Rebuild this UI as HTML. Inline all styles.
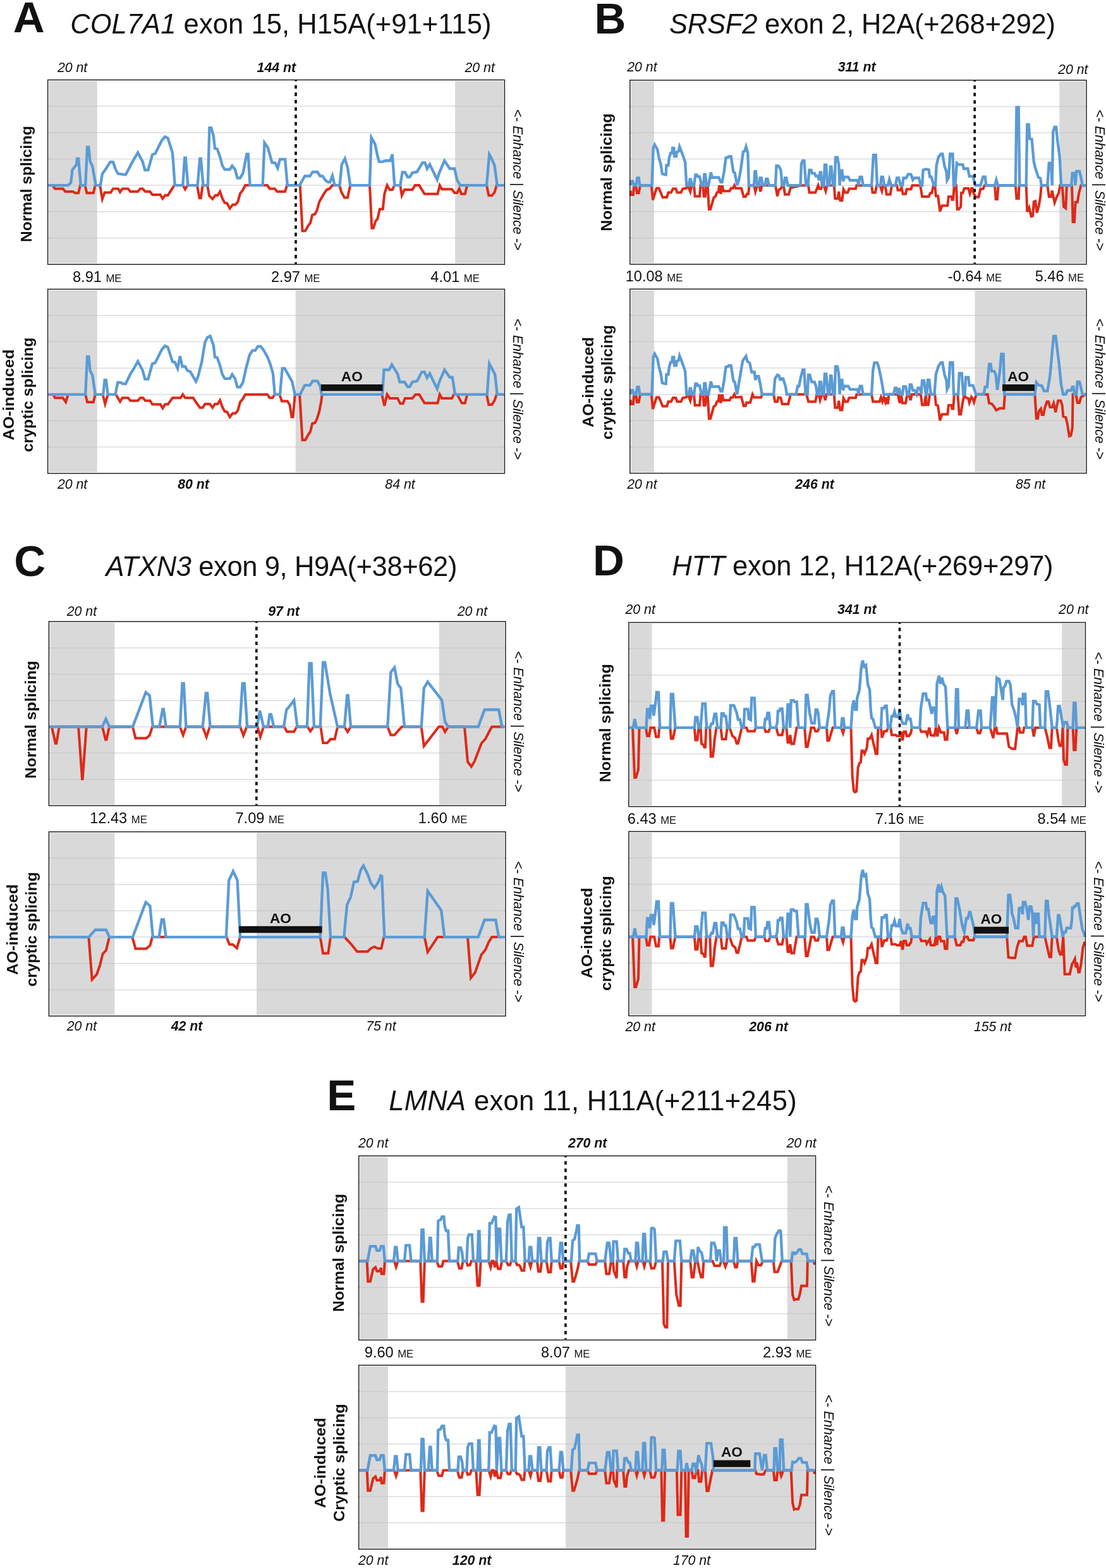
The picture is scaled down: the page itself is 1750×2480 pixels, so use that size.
<!DOCTYPE html>
<html><head><meta charset="utf-8"><title>Splicing ESE/ESS profiles</title>
<style>
html,body{margin:0;padding:0;background:#fff;}
svg{display:block;font-family:"Liberation Sans", Arial, Helvetica, sans-serif;}
</style></head>
<body>
<svg width="1750" height="2480" viewBox="0 0 1750 2480">
<rect x="0" y="0" width="1750" height="2480" fill="#fff"/>
<text x="20.8" y="50.9" font-size="69" font-weight="bold" font-style="normal" text-anchor="start" fill="#111">A</text>
<text x="111.2" y="53.0" font-size="43.5" fill="#111" textLength="666.2" lengthAdjust="spacing"><tspan font-style="italic">COL7A1</tspan> exon 15, H15A(+91+115)</text>
<rect x="77.3" y="128.1" width="76.4" height="288.4" fill="#d9d9d9"/>
<rect x="720.1" y="128.1" width="76.6" height="288.4" fill="#d9d9d9"/>
<line x1="75.6" y1="168.1" x2="798.4" y2="168.1" stroke="#dcdcdc" stroke-width="1.5"/>
<line x1="75.6" y1="168.1" x2="153.7" y2="168.1" stroke="#cbcbcb" stroke-width="1.5"/>
<line x1="720.1" y1="168.1" x2="798.4" y2="168.1" stroke="#cbcbcb" stroke-width="1.5"/>
<line x1="75.6" y1="209.8" x2="798.4" y2="209.8" stroke="#dcdcdc" stroke-width="1.5"/>
<line x1="75.6" y1="209.8" x2="153.7" y2="209.8" stroke="#cbcbcb" stroke-width="1.5"/>
<line x1="720.1" y1="209.8" x2="798.4" y2="209.8" stroke="#cbcbcb" stroke-width="1.5"/>
<line x1="75.6" y1="251.5" x2="798.4" y2="251.5" stroke="#dcdcdc" stroke-width="1.5"/>
<line x1="75.6" y1="251.5" x2="153.7" y2="251.5" stroke="#cbcbcb" stroke-width="1.5"/>
<line x1="720.1" y1="251.5" x2="798.4" y2="251.5" stroke="#cbcbcb" stroke-width="1.5"/>
<line x1="75.6" y1="293.1" x2="798.4" y2="293.1" stroke="#dcdcdc" stroke-width="1.5"/>
<line x1="75.6" y1="293.1" x2="153.7" y2="293.1" stroke="#cbcbcb" stroke-width="1.5"/>
<line x1="720.1" y1="293.1" x2="798.4" y2="293.1" stroke="#cbcbcb" stroke-width="1.5"/>
<line x1="75.6" y1="334.8" x2="798.4" y2="334.8" stroke="#dcdcdc" stroke-width="1.5"/>
<line x1="75.6" y1="334.8" x2="153.7" y2="334.8" stroke="#cbcbcb" stroke-width="1.5"/>
<line x1="720.1" y1="334.8" x2="798.4" y2="334.8" stroke="#cbcbcb" stroke-width="1.5"/>
<line x1="75.6" y1="376.5" x2="798.4" y2="376.5" stroke="#dcdcdc" stroke-width="1.5"/>
<line x1="75.6" y1="376.5" x2="153.7" y2="376.5" stroke="#cbcbcb" stroke-width="1.5"/>
<line x1="720.1" y1="376.5" x2="798.4" y2="376.5" stroke="#cbcbcb" stroke-width="1.5"/>
<polyline points="76.7,293.1 83.3,293.1 87.0,298.5 99.6,298.5 103.3,303.0 115.2,303.0 118.9,305.2 124.1,305.2 127.0,293.1 134.4,293.1 137.4,305.2 147.8,305.2 150.7,293.1 158.1,293.1 161.9,314.8 165.6,304.4 175.2,304.4 178.9,298.5 187.0,298.5 190.0,303.7 193.7,298.5 202.6,298.5 206.3,303.0 218.1,303.0 221.9,298.5 225.6,298.5 230.0,303.0 237.4,303.0 241.1,308.1 253.7,308.1 257.4,314.1 261.1,308.9 265.6,308.9 275.9,293.1 289.3,293.1 293.0,299.3 296.7,293.1 310.0,293.1 311.9,293.1 315.6,313.3 317.8,313.3 320.7,293.1 328.1,293.1 331.1,309.6 336.3,314.8 340.7,308.9 344.4,308.9 348.1,303.0 351.9,314.1 355.6,320.7 359.3,321.5 363.7,329.6 368.1,323.7 372.6,323.7 376.3,319.3 380.0,305.9 383.7,301.5 388.1,293.1 418.5,293.1 423.0,293.1 426.7,298.5 434.8,298.5 438.5,303.0 451.1,303.0 454.1,293.1 474.8,293.1 478.5,365.2 483.0,365.2 488.1,356.3 491.1,352.6 494.1,340.0 498.5,338.5 501.5,332.6 505.2,319.3 511.9,307.4 517.0,300.0 521.5,298.5 525.9,293.1 537.0,293.1 540.0,303.3 545.0,312.5 550.0,312.5 554.2,293.1 585.0,293.1 588.3,360.8 590.8,360.8 594.2,350.0 597.5,345.8 600.8,330.8 605.8,330.8 608.3,306.7 612.5,293.1 616.7,300.0 620.8,300.0 624.2,293.1 633.3,293.1 635.8,309.2 640.0,300.0 652.5,300.0 656.7,293.1 663.3,293.1 671.7,306.7 692.5,306.7 695.8,293.1 699.2,299.2 715.0,299.2 719.2,305.0 723.3,305.0 726.7,298.3 730.0,306.7 735.8,306.7 739.2,293.1 770.0,293.1 773.3,309.2 778.3,309.2 782.5,304.2 785.8,293.1 797.4,293.1" fill="none" stroke="#dd2a18" stroke-width="4.0" stroke-linejoin="miter" stroke-miterlimit="4"/>
<polyline points="76.7,293.1 107.8,293.1 112.2,288.9 114.4,268.9 121.1,260.0 121.9,250.8 124.1,250.8 127.8,293.1 135.2,293.1 138.1,232.6 140.4,232.6 142.6,255.6 146.3,263.0 151.5,293.1 158.9,293.1 161.9,274.8 166.3,268.9 174.4,256.3 178.9,256.3 183.3,268.9 187.0,274.8 193.7,275.6 198.9,276.3 209.3,256.3 218.1,241.5 225.6,255.6 229.3,268.9 234.4,268.9 241.1,244.4 245.6,243.0 255.9,222.2 261.1,216.3 265.6,218.5 273.0,242.2 276.7,293.1 289.3,293.1 292.2,249.6 293.7,249.6 297.4,293.1 310.0,293.1 312.6,293.1 316.3,250.8 317.8,250.8 321.5,293.1 328.9,293.1 331.4,202.2 334.1,202.2 337.8,214.8 340.0,234.8 343.7,235.6 348.1,248.1 351.9,262.2 355.6,268.1 363.7,268.1 367.4,262.2 371.9,268.1 375.6,281.5 380.0,281.5 384.4,274.1 390.4,243.7 392.6,243.7 395.6,293.1 415.6,293.1 418.5,225.9 423.7,233.3 430.4,257.0 435.6,257.8 439.3,265.9 443.0,251.9 451.1,251.9 454.8,293.1 474.1,293.1 482.2,278.5 490.4,278.5 494.8,271.9 502.2,271.9 506.7,278.5 510.4,278.5 514.8,285.2 519.3,288.1 522.2,288.1 525.9,277.8 529.6,293.1 537.0,293.1 537.5,293.1 540.8,260.0 545.8,250.8 550.0,265.0 554.2,293.1 585.0,293.1 587.5,217.5 593.3,227.5 597.5,247.5 600.0,255.8 605.0,255.8 610.0,254.2 617.5,254.2 620.8,244.2 624.2,293.1 633.3,293.1 636.7,272.5 640.8,272.5 645.0,280.0 648.3,280.0 652.5,273.3 660.0,271.7 668.3,257.5 672.5,257.5 675.8,266.7 680.0,260.0 691.7,284.2 695.0,273.3 703.3,254.2 711.7,266.7 719.2,266.7 723.3,285.0 728.3,293.1 770.0,293.1 774.2,244.2 777.5,250.0 782.5,261.7 786.7,293.1 797.4,293.1" fill="none" stroke="#5b9bd5" stroke-width="4.35" stroke-linejoin="miter" stroke-miterlimit="4"/>
<line x1="468.0" y1="126.4" x2="468.0" y2="417.4" stroke="#0d0d0d" stroke-width="3.7" stroke-dasharray="5.6 6.07" stroke-dashoffset="3.4"/>
<rect x="75.6" y="126.4" width="722.8" height="291.8" fill="none" stroke="#1c1c1c" stroke-width="1.45"/>
<rect x="77.3" y="459.1" width="76.4" height="287.9" fill="#d9d9d9"/>
<rect x="467.7" y="459.1" width="329.0" height="287.9" fill="#d9d9d9"/>
<line x1="75.6" y1="499.0" x2="798.4" y2="499.0" stroke="#dcdcdc" stroke-width="1.5"/>
<line x1="75.6" y1="499.0" x2="153.7" y2="499.0" stroke="#cbcbcb" stroke-width="1.5"/>
<line x1="467.7" y1="499.0" x2="798.4" y2="499.0" stroke="#cbcbcb" stroke-width="1.5"/>
<line x1="75.6" y1="540.6" x2="798.4" y2="540.6" stroke="#dcdcdc" stroke-width="1.5"/>
<line x1="75.6" y1="540.6" x2="153.7" y2="540.6" stroke="#cbcbcb" stroke-width="1.5"/>
<line x1="467.7" y1="540.6" x2="798.4" y2="540.6" stroke="#cbcbcb" stroke-width="1.5"/>
<line x1="75.6" y1="582.2" x2="798.4" y2="582.2" stroke="#dcdcdc" stroke-width="1.5"/>
<line x1="75.6" y1="582.2" x2="153.7" y2="582.2" stroke="#cbcbcb" stroke-width="1.5"/>
<line x1="467.7" y1="582.2" x2="798.4" y2="582.2" stroke="#cbcbcb" stroke-width="1.5"/>
<line x1="75.6" y1="623.9" x2="798.4" y2="623.9" stroke="#dcdcdc" stroke-width="1.5"/>
<line x1="75.6" y1="623.9" x2="153.7" y2="623.9" stroke="#cbcbcb" stroke-width="1.5"/>
<line x1="467.7" y1="623.9" x2="798.4" y2="623.9" stroke="#cbcbcb" stroke-width="1.5"/>
<line x1="75.6" y1="665.5" x2="798.4" y2="665.5" stroke="#dcdcdc" stroke-width="1.5"/>
<line x1="75.6" y1="665.5" x2="153.7" y2="665.5" stroke="#cbcbcb" stroke-width="1.5"/>
<line x1="467.7" y1="665.5" x2="798.4" y2="665.5" stroke="#cbcbcb" stroke-width="1.5"/>
<line x1="75.6" y1="707.1" x2="798.4" y2="707.1" stroke="#dcdcdc" stroke-width="1.5"/>
<line x1="75.6" y1="707.1" x2="153.7" y2="707.1" stroke="#cbcbcb" stroke-width="1.5"/>
<line x1="467.7" y1="707.1" x2="798.4" y2="707.1" stroke="#cbcbcb" stroke-width="1.5"/>
<polyline points="76.7,623.9 84.1,623.9 87.0,629.3 99.6,629.3 104.1,635.9 107.8,623.9 135.2,623.9 138.1,635.9 147.8,635.9 150.7,623.9 162.6,623.9 166.3,638.9 170.7,623.9 183.3,623.9 190.0,635.2 193.7,629.3 202.6,629.3 206.3,633.7 218.1,633.7 221.9,629.3 226.3,629.3 230.0,633.7 237.4,633.7 241.1,639.6 253.7,639.6 257.4,645.6 261.1,639.6 265.6,639.6 273.0,629.3 285.6,629.3 289.3,623.9 293.0,629.3 305.6,629.3 310.0,635.9 316.3,644.8 320.7,644.8 324.4,638.9 331.9,638.9 336.3,644.8 340.0,638.9 344.4,638.9 348.1,633.0 351.9,644.1 355.6,650.7 359.3,651.5 363.7,659.6 368.1,653.7 372.6,653.7 376.3,649.3 380.0,635.9 383.7,631.5 388.1,623.9 423.0,623.9 426.7,629.3 431.1,629.3 434.8,623.9 442.2,623.9 445.9,634.4 454.8,634.4 458.5,640.4 461.5,659.6 463.7,659.6 466.7,623.9 474.1,623.9 478.5,695.9 483.0,695.9 488.1,687.0 491.1,682.6 494.1,670.0 498.5,668.5 501.5,662.6 505.2,650.7 508.1,635.9 509.6,623.9 540.0,623.9 604.2,623.9 608.3,641.7 612.5,623.9 616.7,630.0 629.2,630.0 633.3,638.3 637.5,638.3 640.8,630.0 652.5,630.0 657.5,623.9 663.3,623.9 671.7,637.5 692.5,637.5 695.8,623.9 699.2,630.0 715.0,630.0 718.3,623.9 723.3,623.9 730.8,637.5 735.8,637.5 739.2,623.9 770.0,623.9 773.3,640.0 778.3,640.0 782.5,633.3 785.8,623.9 797.4,623.9" fill="none" stroke="#dd2a18" stroke-width="4.0" stroke-linejoin="miter" stroke-miterlimit="4"/>
<polyline points="76.7,623.9 135.2,623.9 138.1,564.1 140.4,564.1 142.6,586.3 146.3,593.7 150.7,623.9 163.3,623.9 165.6,601.1 167.8,601.1 170.7,623.9 182.6,623.9 186.3,604.8 190.7,604.8 194.4,607.0 198.9,607.0 206.3,591.5 210.7,584.8 218.1,571.5 225.6,585.6 229.3,599.6 234.4,599.6 241.1,575.2 245.6,573.7 255.9,553.0 261.1,547.0 265.6,549.3 273.0,572.2 276.7,573.0 281.1,582.6 284.8,563.3 288.5,579.6 293.0,579.6 296.7,586.3 301.1,587.8 310.0,603.3 313.3,595.9 319.3,572.2 324.4,541.1 328.1,533.7 332.6,531.5 337.8,546.3 340.0,564.8 343.7,565.6 348.1,578.1 351.9,592.2 355.6,598.9 363.7,598.9 367.4,592.2 371.9,598.9 375.6,612.2 380.0,612.2 384.4,604.8 388.9,584.1 394.8,561.9 399.3,554.4 403.7,554.4 408.1,547.8 412.6,547.8 417.0,553.7 423.0,564.1 427.4,575.2 431.9,590.7 434.8,623.9 443.0,623.9 446.7,582.6 450.4,582.6 462.2,603.3 466.7,623.9 474.8,623.9 482.2,609.3 490.4,609.3 494.8,602.6 502.2,602.6 506.7,610.7 508.9,623.9 540.0,623.9 605.0,623.9 607.5,585.0 615.8,585.0 620.0,576.7 629.2,591.7 632.5,604.2 640.0,604.2 645.0,611.7 648.3,611.7 652.5,604.2 660.0,602.5 667.5,588.3 671.7,588.3 675.8,597.5 680.0,590.8 691.7,615.0 695.0,604.2 703.3,585.0 711.7,596.7 715.8,596.7 720.0,623.9 770.8,623.9 774.2,575.0 783.3,592.5 786.7,623.9 797.4,623.9" fill="none" stroke="#5b9bd5" stroke-width="4.35" stroke-linejoin="miter" stroke-miterlimit="4"/>
<rect x="507.9" y="608.0" width="97.6" height="10.4" fill="#111"/>
<text x="556.8" y="602.8" font-size="22.6" font-weight="bold" text-anchor="middle" fill="#111">AO</text>
<rect x="75.6" y="457.4" width="722.8" height="291.3" fill="none" stroke="#1c1c1c" stroke-width="1.45"/>
<text x="114.6" y="114.3" font-size="21.3" font-weight="normal" font-style="italic" text-anchor="middle" fill="#111">20 nt</text>
<text x="437.4" y="114.3" font-size="21.3" font-weight="bold" font-style="italic" text-anchor="middle" fill="#111">144 nt</text>
<text x="759.2" y="114.3" font-size="21.3" font-weight="normal" font-style="italic" text-anchor="middle" fill="#111">20 nt</text>
<text x="153.7" y="445.6" font-size="23.6" text-anchor="middle" fill="#111">8.91<tspan font-size="16.7" dx="6.5">ME</tspan></text>
<text x="467.7" y="445.6" font-size="23.6" text-anchor="middle" fill="#111">2.97<tspan font-size="16.7" dx="6.5">ME</tspan></text>
<text x="720.1" y="445.6" font-size="23.6" text-anchor="middle" fill="#111">4.01<tspan font-size="16.7" dx="6.5">ME</tspan></text>
<text x="114.6" y="772.6" font-size="21.3" font-weight="normal" font-style="italic" text-anchor="middle" fill="#111">20 nt</text>
<text x="306.0" y="772.6" font-size="21.3" font-weight="bold" font-style="italic" text-anchor="middle" fill="#111">80 nt</text>
<text x="633.0" y="772.6" font-size="21.3" font-weight="normal" font-style="italic" text-anchor="middle" fill="#111">84 nt</text>
<text transform="translate(50.0,291.0) rotate(-90)" x="0" y="0" font-size="24.2" font-weight="bold" text-anchor="middle" fill="#111" textLength="184.0" lengthAdjust="spacingAndGlyphs">Normal splicing</text>
<text transform="translate(21.5,624.5) rotate(-90)" x="0" y="0" font-size="24.2" font-weight="bold" text-anchor="middle" fill="#111" textLength="144.2" lengthAdjust="spacingAndGlyphs">AO-induced</text>
<text transform="translate(51.6,624.4) rotate(-90)" x="0" y="0" font-size="24.2" font-weight="bold" text-anchor="middle" fill="#111" textLength="181.4" lengthAdjust="spacingAndGlyphs">cryptic splicing</text>
<text transform="translate(811.9,284.7) rotate(90)" x="0" y="0" font-size="21.4" text-anchor="middle" fill="#111">&lt;- <tspan font-style="italic">Enhance</tspan> | <tspan font-style="italic">Silence</tspan> -&gt;</text>
<text transform="translate(811.9,615.7) rotate(90)" x="0" y="0" font-size="21.4" text-anchor="middle" fill="#111">&lt;- <tspan font-style="italic">Enhance</tspan> | <tspan font-style="italic">Silence</tspan> -&gt;</text>
<text x="940.4" y="52.6" font-size="69" font-weight="bold" font-style="normal" text-anchor="start" fill="#111">B</text>
<text x="1059.0" y="53.0" font-size="43.5" fill="#111" textLength="611.1" lengthAdjust="spacing"><tspan font-style="italic">SRSF2</tspan> exon 2, H2A(+268+292)</text>
<rect x="998.5" y="128.5" width="36.5" height="287.8" fill="#d9d9d9"/>
<rect x="1676.3" y="128.5" width="41.0" height="287.8" fill="#d9d9d9"/>
<line x1="996.8" y1="168.4" x2="1719.0" y2="168.4" stroke="#dcdcdc" stroke-width="1.5"/>
<line x1="996.8" y1="168.4" x2="1035.0" y2="168.4" stroke="#cbcbcb" stroke-width="1.5"/>
<line x1="1676.3" y1="168.4" x2="1719.0" y2="168.4" stroke="#cbcbcb" stroke-width="1.5"/>
<line x1="996.8" y1="210.0" x2="1719.0" y2="210.0" stroke="#dcdcdc" stroke-width="1.5"/>
<line x1="996.8" y1="210.0" x2="1035.0" y2="210.0" stroke="#cbcbcb" stroke-width="1.5"/>
<line x1="1676.3" y1="210.0" x2="1719.0" y2="210.0" stroke="#cbcbcb" stroke-width="1.5"/>
<line x1="996.8" y1="251.6" x2="1719.0" y2="251.6" stroke="#dcdcdc" stroke-width="1.5"/>
<line x1="996.8" y1="251.6" x2="1035.0" y2="251.6" stroke="#cbcbcb" stroke-width="1.5"/>
<line x1="1676.3" y1="251.6" x2="1719.0" y2="251.6" stroke="#cbcbcb" stroke-width="1.5"/>
<line x1="996.8" y1="293.2" x2="1719.0" y2="293.2" stroke="#dcdcdc" stroke-width="1.5"/>
<line x1="996.8" y1="293.2" x2="1035.0" y2="293.2" stroke="#cbcbcb" stroke-width="1.5"/>
<line x1="1676.3" y1="293.2" x2="1719.0" y2="293.2" stroke="#cbcbcb" stroke-width="1.5"/>
<line x1="996.8" y1="334.8" x2="1719.0" y2="334.8" stroke="#dcdcdc" stroke-width="1.5"/>
<line x1="996.8" y1="334.8" x2="1035.0" y2="334.8" stroke="#cbcbcb" stroke-width="1.5"/>
<line x1="1676.3" y1="334.8" x2="1719.0" y2="334.8" stroke="#cbcbcb" stroke-width="1.5"/>
<line x1="996.8" y1="376.4" x2="1719.0" y2="376.4" stroke="#dcdcdc" stroke-width="1.5"/>
<line x1="996.8" y1="376.4" x2="1035.0" y2="376.4" stroke="#cbcbcb" stroke-width="1.5"/>
<line x1="1676.3" y1="376.4" x2="1719.0" y2="376.4" stroke="#cbcbcb" stroke-width="1.5"/>
<polyline points="997.8,301.5 997.8,308.1 1001.9,308.1 1003.3,293.2 1006.3,293.2 1007.8,305.2 1010.7,305.2 1013.0,293.2 1030.7,293.2 1033.0,316.3 1036.7,304.4 1038.9,297.8 1042.6,297.8 1044.8,303.0 1048.5,311.9 1055.2,311.9 1057.4,304.4 1061.9,304.4 1064.8,298.5 1069.3,298.5 1071.5,304.4 1077.4,304.4 1080.4,298.5 1085.6,297.8 1088.5,293.2 1092.2,303.0 1094.4,293.2 1098.1,293.2 1099.6,310.4 1107.0,310.4 1108.5,293.2 1112.2,293.2 1113.7,310.4 1115.9,310.4 1117.4,293.2 1119.6,293.2 1121.9,331.1 1124.1,331.1 1129.3,312.6 1132.2,310.4 1134.4,304.4 1136.7,303.7 1138.1,293.2 1140.4,306.7 1142.6,293.2 1144.8,302.2 1154.4,302.2 1156.7,297.8 1159.6,297.8 1161.9,293.2 1164.1,297.8 1173.0,297.8 1176.7,311.1 1179.6,311.1 1181.9,306.7 1184.1,306.7 1185.6,293.2 1193.0,293.2 1195.2,303.0 1198.1,293.2 1201.1,293.2 1203.3,303.0 1205.6,293.2 1227.0,293.2 1230.0,310.4 1232.4,300.0 1235.4,298.5 1237.6,293.2 1239.8,293.2 1242.0,307.4 1248.0,307.4 1250.9,297.0 1268.0,293.2 1270.2,293.2 1279.1,293.2 1280.6,304.4 1290.2,304.4 1293.1,297.0 1294.6,293.2 1296.1,298.5 1299.1,298.5 1300.6,293.2 1303.5,293.2 1306.5,302.2 1308.7,293.2 1319.8,293.2 1321.3,314.1 1325.7,314.1 1327.2,303.0 1329.4,317.0 1332.4,317.0 1334.6,299.3 1337.6,304.4 1341.3,304.4 1343.5,298.5 1353.9,298.5 1355.4,293.2 1379.1,293.2 1380.6,304.4 1385.0,304.4 1387.2,293.2 1392.4,293.2 1395.4,302.2 1397.6,293.2 1400.6,293.2 1402.8,307.4 1408.7,307.4 1410.9,293.2 1419.1,293.2 1420.6,300.7 1424.3,300.7 1426.5,297.0 1428.7,306.7 1433.1,306.7 1434.6,299.3 1441.3,299.3 1443.5,293.2 1453.9,293.2 1456.1,293.2 1459.1,311.1 1465.0,311.1 1469.6,310.9 1472.0,305.3 1474.4,305.3 1476.9,293.2 1479.3,293.2 1480.9,310.1 1484.1,310.1 1487.3,334.2 1490.5,325.3 1499.3,325.3 1500.9,310.9 1505.7,310.9 1506.5,315.7 1508.2,315.7 1509.8,293.2 1513.0,293.2 1514.6,330.9 1517.0,330.9 1520.2,326.9 1521.0,305.3 1523.4,305.3 1525.8,298.0 1532.2,298.0 1534.6,306.1 1537.0,298.0 1538.7,298.0 1540.3,305.3 1544.3,311.7 1548.3,311.7 1551.5,298.8 1555.5,298.8 1557.9,293.2 1574.0,293.2 1575.6,314.9 1578.0,314.9 1579.6,293.2 1606.9,293.2 1608.5,314.1 1611.7,314.1 1612.5,293.2 1623.7,293.2 1625.3,335.0 1628.5,328.5 1631.7,342.2 1634.2,341.4 1635.8,318.9 1638.2,318.1 1640.6,336.6 1643.8,325.3 1646.2,310.9 1647.8,293.2 1657.4,293.2 1659.8,310.9 1663.0,310.9 1664.7,301.3 1668.7,320.5 1671.9,311.7 1675.1,305.3 1677.5,293.2 1680.7,293.2 1683.1,326.9 1686.3,329.3 1687.9,293.2 1696.0,293.2 1697.6,351.0 1700.0,351.0 1701.6,319.7 1704.8,319.7 1707.2,305.3 1710.4,293.2 1718.0,293.2" fill="none" stroke="#dd2a18" stroke-width="4.0" stroke-linejoin="miter" stroke-miterlimit="4"/>
<polyline points="997.8,293.2 998.1,286.7 1001.1,286.7 1003.3,293.2 1006.3,293.2 1008.5,281.5 1010.7,281.5 1012.2,293.2 1031.5,293.2 1033.7,233.3 1035.9,228.9 1040.4,237.0 1042.6,249.6 1045.6,260.0 1047.8,274.8 1050.0,275.6 1053.7,276.3 1054.4,261.5 1057.4,261.5 1058.9,249.6 1061.1,242.2 1063.3,242.2 1064.1,234.1 1066.3,234.1 1067.0,247.4 1070.0,247.4 1070.7,240.7 1073.7,239.3 1075.2,231.9 1078.1,239.3 1081.9,249.6 1084.1,256.3 1086.3,293.2 1090.0,293.2 1091.5,283.7 1093.0,283.7 1095.2,293.2 1098.1,293.2 1100.4,276.3 1102.6,276.3 1104.1,279.3 1107.0,279.3 1110.0,293.2 1113.0,293.2 1114.4,275.6 1115.9,275.6 1118.1,293.2 1121.1,293.2 1124.8,272.6 1127.0,280.7 1137.4,280.7 1140.4,288.1 1142.6,288.1 1145.6,271.9 1148.5,249.6 1152.2,248.9 1153.0,247.4 1156.7,247.4 1160.4,271.9 1162.6,273.3 1166.3,293.2 1169.3,283.7 1172.2,267.4 1175.9,240.0 1178.1,239.3 1180.4,231.9 1183.3,242.2 1184.8,293.2 1193.0,293.2 1194.4,271.1 1195.9,271.1 1198.1,293.2 1201.1,293.2 1202.6,281.5 1204.8,281.5 1207.0,293.2 1210.7,293.2 1212.2,283.0 1214.4,283.0 1216.7,293.2 1227.0,293.2 1228.5,262.2 1230.0,262.2 1232.4,263.0 1235.4,268.9 1237.6,293.2 1240.6,293.2 1242.0,281.5 1244.3,281.5 1246.5,293.2 1266.5,293.2 1268.0,258.5 1270.2,254.1 1272.4,254.1 1275.4,293.2 1278.3,293.2 1280.6,268.9 1283.5,268.9 1285.0,274.1 1288.7,274.1 1290.9,278.5 1293.9,278.5 1296.1,285.2 1297.6,272.6 1299.1,272.6 1300.6,293.2 1303.5,293.2 1305.0,260.7 1307.2,260.7 1309.4,293.2 1312.4,293.2 1313.9,263.7 1315.4,263.7 1318.3,293.2 1320.6,293.2 1322.0,248.9 1325.0,248.9 1327.2,260.7 1328.7,293.2 1329.4,269.6 1332.4,269.6 1333.9,286.7 1336.1,280.0 1342.0,280.0 1345.0,285.2 1356.9,285.2 1358.3,293.2 1360.6,280.0 1363.5,280.0 1365.7,293.2 1379.1,293.2 1382.0,245.2 1385.7,245.2 1388.0,293.2 1393.1,293.2 1394.6,280.0 1396.9,280.0 1399.1,293.2 1405.0,293.2 1407.2,283.7 1410.2,293.2 1416.9,293.2 1419.1,281.5 1422.0,281.5 1425.0,293.2 1428.0,293.2 1429.4,281.5 1433.9,281.5 1436.9,275.6 1441.3,275.6 1444.3,284.4 1446.5,281.5 1453.9,281.5 1456.9,293.2 1459.1,293.2 1460.6,268.9 1465.0,267.4 1469.6,268.3 1471.2,279.6 1473.6,279.6 1476.1,288.4 1477.7,293.2 1480.1,293.2 1481.7,261.9 1484.9,248.3 1488.9,243.5 1491.3,243.5 1494.5,262.7 1497.7,272.4 1498.5,285.2 1500.9,281.2 1503.3,243.5 1507.4,243.5 1509.0,293.2 1511.4,293.2 1513.8,257.9 1517.0,260.3 1523.4,260.3 1525.0,266.7 1531.4,266.7 1533.8,278.8 1539.5,278.8 1541.9,288.4 1543.5,293.2 1551.5,293.2 1555.5,279.6 1558.7,279.6 1560.3,293.2 1574.0,293.2 1576.4,284.4 1578.8,293.2 1606.9,293.2 1608.5,169.6 1611.7,169.6 1613.3,293.2 1623.7,293.2 1625.3,196.9 1627.7,196.9 1629.3,219.4 1632.6,220.2 1635.8,256.3 1638.2,265.9 1643.0,280.4 1646.2,282.0 1647.8,293.2 1657.4,293.2 1659.8,257.9 1663.0,257.9 1664.7,293.2 1666.3,208.2 1668.7,200.9 1671.1,200.9 1673.5,224.2 1676.7,248.3 1679.1,293.2 1695.2,293.2 1696.8,274.0 1700.0,274.0 1701.6,293.2 1703.2,270.8 1708.0,270.8 1710.4,280.4 1712.8,293.2 1718.0,293.2" fill="none" stroke="#5b9bd5" stroke-width="4.35" stroke-linejoin="miter" stroke-miterlimit="4"/>
<line x1="1542.2" y1="126.8" x2="1542.2" y2="417.2" stroke="#0d0d0d" stroke-width="3.7" stroke-dasharray="5.6 6.07" stroke-dashoffset="3.4"/>
<rect x="996.8" y="126.8" width="722.2" height="291.2" fill="none" stroke="#1c1c1c" stroke-width="1.45"/>
<rect x="998.5" y="458.9" width="36.5" height="287.9" fill="#d9d9d9"/>
<rect x="1542.5" y="458.9" width="174.8" height="287.9" fill="#d9d9d9"/>
<line x1="996.8" y1="498.8" x2="1719.0" y2="498.8" stroke="#dcdcdc" stroke-width="1.5"/>
<line x1="996.8" y1="498.8" x2="1035.0" y2="498.8" stroke="#cbcbcb" stroke-width="1.5"/>
<line x1="1542.5" y1="498.8" x2="1719.0" y2="498.8" stroke="#cbcbcb" stroke-width="1.5"/>
<line x1="996.8" y1="540.4" x2="1719.0" y2="540.4" stroke="#dcdcdc" stroke-width="1.5"/>
<line x1="996.8" y1="540.4" x2="1035.0" y2="540.4" stroke="#cbcbcb" stroke-width="1.5"/>
<line x1="1542.5" y1="540.4" x2="1719.0" y2="540.4" stroke="#cbcbcb" stroke-width="1.5"/>
<line x1="996.8" y1="582.0" x2="1719.0" y2="582.0" stroke="#dcdcdc" stroke-width="1.5"/>
<line x1="996.8" y1="582.0" x2="1035.0" y2="582.0" stroke="#cbcbcb" stroke-width="1.5"/>
<line x1="1542.5" y1="582.0" x2="1719.0" y2="582.0" stroke="#cbcbcb" stroke-width="1.5"/>
<line x1="996.8" y1="623.7" x2="1719.0" y2="623.7" stroke="#dcdcdc" stroke-width="1.5"/>
<line x1="996.8" y1="623.7" x2="1035.0" y2="623.7" stroke="#cbcbcb" stroke-width="1.5"/>
<line x1="1542.5" y1="623.7" x2="1719.0" y2="623.7" stroke="#cbcbcb" stroke-width="1.5"/>
<line x1="996.8" y1="665.3" x2="1719.0" y2="665.3" stroke="#dcdcdc" stroke-width="1.5"/>
<line x1="996.8" y1="665.3" x2="1035.0" y2="665.3" stroke="#cbcbcb" stroke-width="1.5"/>
<line x1="1542.5" y1="665.3" x2="1719.0" y2="665.3" stroke="#cbcbcb" stroke-width="1.5"/>
<line x1="996.8" y1="706.9" x2="1719.0" y2="706.9" stroke="#dcdcdc" stroke-width="1.5"/>
<line x1="996.8" y1="706.9" x2="1035.0" y2="706.9" stroke="#cbcbcb" stroke-width="1.5"/>
<line x1="1542.5" y1="706.9" x2="1719.0" y2="706.9" stroke="#cbcbcb" stroke-width="1.5"/>
<polyline points="997.8,632.2 997.8,638.9 1001.9,638.9 1003.3,623.7 1006.3,623.7 1007.8,635.9 1010.7,635.9 1013.0,623.7 1030.7,623.7 1033.0,647.0 1036.7,635.2 1038.9,628.5 1042.6,628.5 1044.8,633.7 1048.5,642.6 1055.2,642.6 1057.4,635.2 1061.9,635.2 1064.8,629.3 1069.3,629.3 1071.5,635.2 1077.4,635.2 1080.4,629.3 1085.6,628.5 1088.5,623.7 1092.2,633.7 1094.4,623.7 1098.1,623.7 1099.6,641.1 1107.0,641.1 1108.5,623.7 1112.2,623.7 1113.7,641.1 1115.9,641.1 1117.4,623.7 1119.6,623.7 1121.9,661.9 1124.1,661.9 1129.3,643.3 1132.2,641.1 1134.4,635.2 1136.7,634.4 1138.1,623.7 1140.4,637.4 1142.6,623.7 1144.8,633.0 1154.4,633.0 1156.7,628.5 1159.6,628.5 1161.9,623.7 1164.1,628.5 1173.0,627.8 1176.7,641.9 1179.6,641.9 1181.1,636.7 1187.0,636.7 1190.7,623.7 1193.0,628.5 1204.1,628.5 1206.3,623.7 1224.1,623.7 1226.3,635.2 1230.0,635.2 1231.7,628.5 1235.4,629.3 1237.6,638.9 1247.2,638.9 1250.9,623.7 1262.8,623.7 1263.5,623.7 1270.2,623.7 1271.7,623.7 1276.1,623.7 1279.1,635.2 1290.2,635.2 1292.4,623.7 1295.4,623.7 1297.6,633.0 1300.6,623.7 1303.5,623.7 1305.7,633.0 1308.0,623.7 1319.8,623.7 1321.3,644.8 1325.7,644.8 1327.2,633.7 1329.4,648.5 1332.4,648.5 1334.6,630.0 1337.6,635.2 1341.3,635.2 1343.5,629.3 1353.9,629.3 1355.4,623.7 1379.1,623.7 1381.3,635.2 1391.7,635.2 1393.9,628.5 1396.1,635.2 1398.3,628.5 1400.6,635.2 1402.0,628.5 1403.5,637.4 1405.0,637.4 1406.5,623.7 1420.6,623.7 1423.5,637.4 1425.7,623.7 1428.0,637.4 1433.1,637.4 1435.4,623.7 1438.3,623.7 1440.6,633.0 1442.8,623.7 1445.7,623.7 1447.2,623.7 1456.9,623.7 1459.1,640.4 1462.8,640.4 1465.0,623.7 1465.6,640.1 1468.8,640.1 1471.2,623.7 1479.3,623.7 1480.9,640.1 1484.1,641.7 1487.3,665.0 1490.5,655.3 1499.3,655.3 1500.9,640.9 1505.7,640.9 1506.5,646.5 1508.2,646.5 1509.8,623.7 1515.4,623.7 1517.8,655.3 1520.2,655.3 1523.4,635.3 1525.8,623.7 1527.4,628.0 1532.2,630.4 1533.8,636.9 1537.0,628.0 1539.5,631.3 1541.1,636.1 1543.5,628.0 1545.1,623.7 1562.7,623.7 1565.1,637.7 1569.1,638.5 1572.4,642.5 1576.4,648.9 1582.0,645.7 1588.4,645.7 1590.0,623.7 1637.4,623.7 1639.8,661.7 1642.2,661.7 1643.8,650.5 1647.0,646.5 1648.6,656.1 1651.0,656.1 1653.4,644.1 1656.6,635.3 1659.0,635.3 1661.4,644.1 1664.7,644.1 1667.1,637.7 1670.3,652.1 1671.9,643.3 1674.3,633.7 1678.3,633.7 1680.7,640.9 1682.3,658.5 1686.3,660.1 1688.7,669.8 1691.9,689.8 1694.3,689.0 1696.8,677.0 1697.6,623.7 1702.4,623.7 1704.8,636.9 1708.0,636.9 1710.4,628.0 1718.0,623.7" fill="none" stroke="#dd2a18" stroke-width="4.0" stroke-linejoin="miter" stroke-miterlimit="4"/>
<polyline points="997.8,623.7 998.1,617.4 1001.1,617.4 1003.3,623.7 1006.3,623.7 1008.5,612.2 1010.7,612.2 1012.2,623.7 1031.5,623.7 1033.7,564.1 1035.9,559.6 1040.4,567.8 1042.6,580.4 1045.6,590.7 1047.8,605.6 1050.0,606.3 1053.7,607.0 1054.4,592.2 1057.4,592.2 1058.9,580.4 1061.1,573.0 1063.3,573.0 1064.1,564.8 1066.3,564.8 1067.0,578.1 1070.0,578.1 1070.7,571.5 1073.7,570.0 1075.2,562.6 1078.1,570.0 1081.9,580.4 1084.1,587.0 1086.3,623.7 1090.0,623.7 1091.5,614.4 1093.0,614.4 1095.2,623.7 1098.1,623.7 1100.4,607.0 1102.6,607.0 1104.1,610.0 1107.0,610.0 1110.0,623.7 1113.0,623.7 1114.4,606.3 1115.9,606.3 1118.1,623.7 1121.1,623.7 1124.8,603.3 1127.0,611.5 1137.4,611.5 1140.4,618.9 1142.6,618.9 1145.6,602.6 1148.5,580.4 1152.2,579.6 1153.0,578.1 1156.7,578.1 1160.4,602.6 1162.6,604.1 1166.3,623.7 1169.3,604.8 1175.2,570.7 1180.4,563.3 1182.6,571.5 1186.3,574.4 1189.3,588.5 1193.7,588.5 1195.2,601.1 1197.4,595.2 1200.4,595.2 1203.3,609.3 1205.6,623.7 1224.1,623.7 1226.3,598.9 1230.0,593.0 1232.4,593.7 1234.6,600.4 1236.1,600.4 1236.9,598.9 1239.1,598.9 1242.8,610.7 1245.0,623.7 1259.8,623.7 1262.0,610.7 1264.3,610.7 1267.2,595.9 1270.2,584.8 1272.4,584.8 1274.6,623.7 1277.6,623.7 1279.1,593.0 1281.3,593.0 1284.3,604.1 1288.7,604.1 1290.9,610.0 1293.1,623.7 1295.4,623.7 1296.9,604.1 1299.1,604.1 1300.6,623.7 1303.5,623.7 1305.0,591.5 1307.2,591.5 1310.2,623.7 1312.4,623.7 1313.9,594.4 1315.4,594.4 1318.3,623.7 1320.6,623.7 1322.0,579.6 1325.0,579.6 1327.2,591.5 1328.7,623.7 1329.4,601.1 1332.4,601.1 1333.9,617.4 1336.1,610.7 1342.0,610.7 1345.0,615.9 1356.9,615.9 1358.3,623.7 1360.6,610.7 1363.5,610.7 1365.7,623.7 1379.1,623.7 1381.3,585.6 1383.5,573.7 1388.0,573.7 1390.2,579.6 1393.9,597.4 1396.1,609.3 1398.3,623.7 1413.9,623.7 1416.1,613.7 1418.3,613.7 1420.6,623.7 1422.8,613.7 1425.0,623.7 1428.0,623.7 1429.4,611.5 1433.1,611.5 1435.4,623.7 1438.3,623.7 1439.8,608.5 1442.0,608.5 1444.3,617.4 1447.2,617.4 1450.2,623.7 1452.4,613.7 1456.1,613.7 1457.6,623.7 1459.1,601.9 1462.0,601.9 1465.0,623.7 1466.4,623.7 1468.0,600.8 1470.4,600.8 1472.8,623.7 1478.5,623.7 1480.9,591.9 1484.9,579.1 1488.9,573.5 1491.3,573.5 1494.5,592.7 1497.7,602.4 1498.5,616.0 1500.9,611.2 1503.3,573.5 1507.4,573.5 1509.0,623.7 1516.2,623.7 1517.8,590.3 1521.8,590.3 1524.2,623.7 1526.6,623.7 1528.2,596.7 1532.2,596.7 1533.8,609.6 1539.5,609.6 1544.3,623.7 1556.3,623.7 1558.7,612.0 1561.9,612.0 1565.1,575.9 1567.5,575.9 1569.1,587.1 1573.2,587.1 1575.6,592.7 1578.0,616.8 1582.0,587.9 1584.4,559.8 1587.6,559.8 1589.2,623.7 1637.4,623.7 1639.8,604.8 1643.0,608.8 1648.6,610.4 1651.8,618.4 1657.4,618.4 1661.4,594.3 1667.1,531.7 1670.3,531.7 1675.9,576.7 1679.1,608.8 1682.3,623.7 1686.3,623.7 1688.7,617.6 1694.3,617.6 1696.8,612.0 1698.4,612.0 1700.0,623.7 1703.2,623.7 1704.8,604.0 1708.0,604.0 1710.4,613.6 1712.8,623.7 1718.0,623.7" fill="none" stroke="#5b9bd5" stroke-width="4.35" stroke-linejoin="miter" stroke-miterlimit="4"/>
<rect x="1586.0" y="608.0" width="50.9" height="10.4" fill="#111"/>
<text x="1611.1" y="603.0" font-size="22.6" font-weight="bold" text-anchor="middle" fill="#111">AO</text>
<rect x="996.8" y="457.2" width="722.2" height="291.3" fill="none" stroke="#1c1c1c" stroke-width="1.45"/>
<text x="1015.9" y="113.3" font-size="21.3" font-weight="normal" font-style="italic" text-anchor="middle" fill="#111">20 nt</text>
<text x="1355.7" y="113.3" font-size="21.3" font-weight="bold" font-style="italic" text-anchor="middle" fill="#111">311 nt</text>
<text x="1697.8" y="116.7" font-size="21.3" font-weight="normal" font-style="italic" text-anchor="middle" fill="#111">20 nt</text>
<text x="1035.0" y="444.6" font-size="23.6" text-anchor="middle" fill="#111">10.08<tspan font-size="16.7" dx="6.5">ME</tspan></text>
<text x="1542.5" y="444.6" font-size="23.6" text-anchor="middle" fill="#111">-0.64<tspan font-size="16.7" dx="6.5">ME</tspan></text>
<text x="1676.4" y="444.6" font-size="23.6" text-anchor="middle" fill="#111">5.46<tspan font-size="16.7" dx="6.5">ME</tspan></text>
<text x="1015.9" y="772.6" font-size="21.3" font-weight="normal" font-style="italic" text-anchor="middle" fill="#111">20 nt</text>
<text x="1289.0" y="772.6" font-size="21.3" font-weight="bold" font-style="italic" text-anchor="middle" fill="#111">246 nt</text>
<text x="1630.6" y="772.6" font-size="21.3" font-weight="normal" font-style="italic" text-anchor="middle" fill="#111">85 nt</text>
<text transform="translate(967.9,272.5) rotate(-90)" x="0" y="0" font-size="24.2" font-weight="bold" text-anchor="middle" fill="#111" textLength="186.6" lengthAdjust="spacingAndGlyphs">Normal splicing</text>
<text transform="translate(938.8,604.5) rotate(-90)" x="0" y="0" font-size="24.2" font-weight="bold" text-anchor="middle" fill="#111" textLength="143.0" lengthAdjust="spacingAndGlyphs">AO-induced</text>
<text transform="translate(969.3,604.5) rotate(-90)" x="0" y="0" font-size="24.2" font-weight="bold" text-anchor="middle" fill="#111" textLength="181.4" lengthAdjust="spacingAndGlyphs">cryptic splicing</text>
<text transform="translate(1732.5,285.1) rotate(90)" x="0" y="0" font-size="21.4" text-anchor="middle" fill="#111">&lt;- <tspan font-style="italic">Enhance</tspan> | <tspan font-style="italic">Silence</tspan> -&gt;</text>
<text transform="translate(1732.5,615.5) rotate(90)" x="0" y="0" font-size="21.4" text-anchor="middle" fill="#111">&lt;- <tspan font-style="italic">Enhance</tspan> | <tspan font-style="italic">Silence</tspan> -&gt;</text>
<text x="22.2" y="910.5" font-size="69" font-weight="bold" font-style="normal" text-anchor="start" fill="#111">C</text>
<text x="167.4" y="911.4" font-size="43.5" fill="#111" textLength="556.0" lengthAdjust="spacing"><tspan font-style="italic">ATXN3</tspan> exon 9, H9A(+38+62)</text>
<rect x="79.1" y="984.8" width="102.3" height="287.8" fill="#d9d9d9"/>
<rect x="694.8" y="984.8" width="103.4" height="287.8" fill="#d9d9d9"/>
<line x1="77.4" y1="1024.7" x2="799.9" y2="1024.7" stroke="#dcdcdc" stroke-width="1.5"/>
<line x1="77.4" y1="1024.7" x2="181.4" y2="1024.7" stroke="#cbcbcb" stroke-width="1.5"/>
<line x1="694.8" y1="1024.7" x2="799.9" y2="1024.7" stroke="#cbcbcb" stroke-width="1.5"/>
<line x1="77.4" y1="1066.3" x2="799.9" y2="1066.3" stroke="#dcdcdc" stroke-width="1.5"/>
<line x1="77.4" y1="1066.3" x2="181.4" y2="1066.3" stroke="#cbcbcb" stroke-width="1.5"/>
<line x1="694.8" y1="1066.3" x2="799.9" y2="1066.3" stroke="#cbcbcb" stroke-width="1.5"/>
<line x1="77.4" y1="1107.9" x2="799.9" y2="1107.9" stroke="#dcdcdc" stroke-width="1.5"/>
<line x1="77.4" y1="1107.9" x2="181.4" y2="1107.9" stroke="#cbcbcb" stroke-width="1.5"/>
<line x1="694.8" y1="1107.9" x2="799.9" y2="1107.9" stroke="#cbcbcb" stroke-width="1.5"/>
<line x1="77.4" y1="1149.5" x2="799.9" y2="1149.5" stroke="#dcdcdc" stroke-width="1.5"/>
<line x1="77.4" y1="1149.5" x2="181.4" y2="1149.5" stroke="#cbcbcb" stroke-width="1.5"/>
<line x1="694.8" y1="1149.5" x2="799.9" y2="1149.5" stroke="#cbcbcb" stroke-width="1.5"/>
<line x1="77.4" y1="1191.1" x2="799.9" y2="1191.1" stroke="#dcdcdc" stroke-width="1.5"/>
<line x1="77.4" y1="1191.1" x2="181.4" y2="1191.1" stroke="#cbcbcb" stroke-width="1.5"/>
<line x1="694.8" y1="1191.1" x2="799.9" y2="1191.1" stroke="#cbcbcb" stroke-width="1.5"/>
<line x1="77.4" y1="1232.7" x2="799.9" y2="1232.7" stroke="#dcdcdc" stroke-width="1.5"/>
<line x1="77.4" y1="1232.7" x2="181.4" y2="1232.7" stroke="#cbcbcb" stroke-width="1.5"/>
<line x1="694.8" y1="1232.7" x2="799.9" y2="1232.7" stroke="#cbcbcb" stroke-width="1.5"/>
<polyline points="78.4,1149.5 81.9,1149.5 87.8,1175.7 89.3,1175.7 93.7,1149.5 124.1,1149.5 130.0,1232.0 130.7,1232.0 136.7,1149.5 161.9,1149.5 167.0,1169.8 168.5,1169.8 173.0,1149.5 210.0,1149.5 214.4,1167.6 231.5,1167.6 236.7,1163.1 241.1,1149.5 255.2,1149.5 260.4,1149.5 284.8,1149.5 289.7,1162.4 294.4,1149.5 310.0,1149.5 320.7,1149.5 326.7,1165.4 331.9,1149.5 380.0,1149.5 385.2,1163.1 390.4,1149.5 407.4,1149.5 411.9,1165.4 417.0,1149.5 424.4,1149.5 430.4,1149.5 449.6,1149.5 454.1,1157.2 465.2,1157.2 469.6,1149.5 486.7,1149.5 491.1,1156.5 496.3,1149.5 507.4,1149.5 511.1,1175.0 517.8,1175.0 523.0,1169.1 529.6,1169.1 534.1,1149.5 540.0,1149.5 545.0,1149.5 550.0,1157.5 555.0,1149.5 613.3,1149.5 618.3,1162.5 624.2,1162.5 630.0,1155.8 635.8,1149.5 640.0,1149.5 666.7,1149.5 670.8,1180.0 694.2,1149.5 700.0,1149.5 704.2,1157.5 709.2,1149.5 735.0,1149.5 740.0,1205.0 745.8,1212.5 750.8,1204.2 761.7,1175.8 768.3,1168.3 774.2,1156.7 778.3,1149.5 790.8,1149.5 798.3,1149.5" fill="none" stroke="#dd2a18" stroke-width="4.0" stroke-linejoin="miter" stroke-miterlimit="4"/>
<polyline points="78.4,1149.5 161.9,1149.5 167.5,1137.2 173.0,1149.5 210.0,1149.5 230.7,1095.0 236.7,1100.2 241.9,1149.5 252.2,1149.5 257.4,1121.7 258.9,1121.7 262.6,1149.5 284.8,1149.5 288.5,1080.9 290.7,1080.9 294.4,1149.5 310.0,1149.5 320.7,1149.5 325.9,1096.5 328.1,1096.5 332.6,1149.5 379.3,1149.5 383.7,1080.9 386.7,1080.9 391.1,1149.5 406.7,1149.5 411.1,1123.9 417.0,1149.5 423.7,1149.5 426.7,1129.8 428.9,1129.8 433.3,1149.5 448.9,1149.5 453.3,1122.4 456.3,1119.4 465.2,1107.6 470.4,1149.5 485.9,1149.5 489.6,1049.1 492.6,1049.1 497.0,1149.5 506.7,1149.5 511.1,1047.6 514.1,1047.6 522.2,1097.2 534.1,1149.5 540.0,1149.5 545.0,1149.5 549.2,1100.0 550.8,1100.0 555.0,1149.5 613.3,1149.5 618.3,1063.3 624.2,1055.8 629.2,1081.7 634.2,1088.3 640.0,1149.5 666.7,1149.5 670.8,1088.3 676.7,1078.3 699.2,1107.5 704.2,1141.7 709.2,1149.5 756.7,1149.5 766.7,1122.5 789.2,1122.5 794.2,1149.5 798.3,1149.5" fill="none" stroke="#5b9bd5" stroke-width="4.35" stroke-linejoin="miter" stroke-miterlimit="4"/>
<line x1="405.8" y1="983.1" x2="405.8" y2="1273.5" stroke="#0d0d0d" stroke-width="3.7" stroke-dasharray="5.6 6.07" stroke-dashoffset="3.4"/>
<rect x="77.4" y="983.1" width="722.5" height="291.2" fill="none" stroke="#1c1c1c" stroke-width="1.45"/>
<rect x="79.1" y="1317.3" width="102.3" height="288.0" fill="#d9d9d9"/>
<rect x="406.0" y="1317.3" width="392.2" height="288.0" fill="#d9d9d9"/>
<line x1="77.4" y1="1357.2" x2="799.9" y2="1357.2" stroke="#dcdcdc" stroke-width="1.5"/>
<line x1="77.4" y1="1357.2" x2="181.4" y2="1357.2" stroke="#cbcbcb" stroke-width="1.5"/>
<line x1="406.0" y1="1357.2" x2="799.9" y2="1357.2" stroke="#cbcbcb" stroke-width="1.5"/>
<line x1="77.4" y1="1398.9" x2="799.9" y2="1398.9" stroke="#dcdcdc" stroke-width="1.5"/>
<line x1="77.4" y1="1398.9" x2="181.4" y2="1398.9" stroke="#cbcbcb" stroke-width="1.5"/>
<line x1="406.0" y1="1398.9" x2="799.9" y2="1398.9" stroke="#cbcbcb" stroke-width="1.5"/>
<line x1="77.4" y1="1440.5" x2="799.9" y2="1440.5" stroke="#dcdcdc" stroke-width="1.5"/>
<line x1="77.4" y1="1440.5" x2="181.4" y2="1440.5" stroke="#cbcbcb" stroke-width="1.5"/>
<line x1="406.0" y1="1440.5" x2="799.9" y2="1440.5" stroke="#cbcbcb" stroke-width="1.5"/>
<line x1="77.4" y1="1482.1" x2="799.9" y2="1482.1" stroke="#dcdcdc" stroke-width="1.5"/>
<line x1="77.4" y1="1482.1" x2="181.4" y2="1482.1" stroke="#cbcbcb" stroke-width="1.5"/>
<line x1="406.0" y1="1482.1" x2="799.9" y2="1482.1" stroke="#cbcbcb" stroke-width="1.5"/>
<line x1="77.4" y1="1523.7" x2="799.9" y2="1523.7" stroke="#dcdcdc" stroke-width="1.5"/>
<line x1="77.4" y1="1523.7" x2="181.4" y2="1523.7" stroke="#cbcbcb" stroke-width="1.5"/>
<line x1="406.0" y1="1523.7" x2="799.9" y2="1523.7" stroke="#cbcbcb" stroke-width="1.5"/>
<line x1="77.4" y1="1565.4" x2="799.9" y2="1565.4" stroke="#dcdcdc" stroke-width="1.5"/>
<line x1="77.4" y1="1565.4" x2="181.4" y2="1565.4" stroke="#cbcbcb" stroke-width="1.5"/>
<line x1="406.0" y1="1565.4" x2="799.9" y2="1565.4" stroke="#cbcbcb" stroke-width="1.5"/>
<polyline points="78.4,1482.1 139.6,1482.1 140.4,1482.1 145.6,1549.3 153.0,1541.1 158.1,1527.0 162.6,1508.5 167.8,1503.3 173.0,1482.1 209.3,1482.1 214.4,1500.4 231.5,1500.4 237.4,1495.2 241.1,1482.1 255.2,1482.1 260.4,1482.1 310.0,1482.1 358.5,1482.1 363.0,1493.7 368.1,1493.7 374.8,1499.6 380.0,1482.1 506.7,1482.1 511.1,1507.8 519.3,1507.8 523.0,1482.1 540.0,1482.1 545.0,1482.1 555.0,1492.5 565.0,1505.0 581.7,1505.0 586.7,1500.0 592.5,1497.5 597.5,1500.0 603.3,1500.0 607.5,1482.1 671.7,1482.1 676.7,1505.8 692.5,1482.1 701.7,1482.1 740.0,1482.1 745.0,1546.7 751.7,1538.3 761.7,1510.0 768.3,1501.7 773.3,1490.0 778.3,1482.1 785.8,1482.1 798.3,1482.1" fill="none" stroke="#dd2a18" stroke-width="4.0" stroke-linejoin="miter" stroke-miterlimit="4"/>
<polyline points="78.4,1482.1 140.4,1482.1 150.7,1470.7 167.8,1470.7 173.0,1482.1 210.0,1482.1 230.7,1427.0 237.4,1433.0 241.9,1482.1 251.5,1482.1 255.9,1454.4 258.9,1454.4 262.6,1482.1 310.0,1482.1 357.8,1482.1 362.2,1392.2 368.9,1378.1 375.6,1392.2 380.0,1482.1 506.7,1482.1 511.1,1380.4 514.8,1380.4 518.5,1405.6 523.0,1482.1 540.0,1482.1 544.2,1482.1 549.2,1430.8 555.0,1418.3 560.0,1395.0 565.8,1394.2 570.8,1375.8 575.0,1369.2 581.7,1382.5 586.7,1396.7 592.5,1404.2 598.3,1395.8 602.5,1385.0 604.2,1385.8 608.3,1482.1 671.7,1482.1 676.7,1409.2 698.3,1440.0 703.3,1482.1 756.7,1482.1 766.7,1455.0 784.2,1455.0 789.2,1482.1 798.3,1482.1" fill="none" stroke="#5b9bd5" stroke-width="4.35" stroke-linejoin="miter" stroke-miterlimit="4"/>
<rect x="378.2" y="1464.8" width="131.4" height="10.7" fill="#111"/>
<text x="443.9" y="1459.6" font-size="22.6" font-weight="bold" text-anchor="middle" fill="#111">AO</text>
<rect x="77.4" y="1315.6" width="722.5" height="291.4" fill="none" stroke="#1c1c1c" stroke-width="1.45"/>
<text x="129.4" y="974.4" font-size="21.3" font-weight="normal" font-style="italic" text-anchor="middle" fill="#111">20 nt</text>
<text x="449.0" y="974.4" font-size="21.3" font-weight="bold" font-style="italic" text-anchor="middle" fill="#111">97 nt</text>
<text x="747.4" y="974.4" font-size="21.3" font-weight="normal" font-style="italic" text-anchor="middle" fill="#111">20 nt</text>
<text x="187.5" y="1302.0" font-size="23.6" text-anchor="middle" fill="#111">12.43<tspan font-size="16.7" dx="6.5">ME</tspan></text>
<text x="411.2" y="1302.0" font-size="23.6" text-anchor="middle" fill="#111">7.09<tspan font-size="16.7" dx="6.5">ME</tspan></text>
<text x="700.6" y="1302.0" font-size="23.6" text-anchor="middle" fill="#111">1.60<tspan font-size="16.7" dx="6.5">ME</tspan></text>
<text x="129.4" y="1630.1" font-size="21.3" font-weight="normal" font-style="italic" text-anchor="middle" fill="#111">20 nt</text>
<text x="295.6" y="1630.1" font-size="21.3" font-weight="bold" font-style="italic" text-anchor="middle" fill="#111">42 nt</text>
<text x="602.9" y="1630.1" font-size="21.3" font-weight="normal" font-style="italic" text-anchor="middle" fill="#111">75 nt</text>
<text transform="translate(56.8,1138.3) rotate(-90)" x="0" y="0" font-size="24.2" font-weight="bold" text-anchor="middle" fill="#111" textLength="186.2" lengthAdjust="spacingAndGlyphs">Normal splicing</text>
<text transform="translate(27.7,1470.2) rotate(-90)" x="0" y="0" font-size="24.2" font-weight="bold" text-anchor="middle" fill="#111" textLength="143.4" lengthAdjust="spacingAndGlyphs">AO-induced</text>
<text transform="translate(58.2,1469.9) rotate(-90)" x="0" y="0" font-size="24.2" font-weight="bold" text-anchor="middle" fill="#111" textLength="181.4" lengthAdjust="spacingAndGlyphs">cryptic splicing</text>
<text transform="translate(813.4,1141.4) rotate(90)" x="0" y="0" font-size="21.4" text-anchor="middle" fill="#111">&lt;- <tspan font-style="italic">Enhance</tspan> | <tspan font-style="italic">Silence</tspan> -&gt;</text>
<text transform="translate(813.4,1473.9) rotate(90)" x="0" y="0" font-size="21.4" text-anchor="middle" fill="#111">&lt;- <tspan font-style="italic">Enhance</tspan> | <tspan font-style="italic">Silence</tspan> -&gt;</text>
<text x="938.0" y="910.1" font-size="69" font-weight="bold" font-style="normal" text-anchor="start" fill="#111">D</text>
<text x="1063.2" y="910.0" font-size="43.5" fill="#111" textLength="603.4" lengthAdjust="spacing"><tspan font-style="italic">HTT</tspan> exon 12, H12A(+269+297)</text>
<rect x="996.6" y="986.2" width="34.9" height="287.8" fill="#d9d9d9"/>
<rect x="1680.2" y="986.2" width="35.5" height="287.8" fill="#d9d9d9"/>
<line x1="994.9" y1="1026.1" x2="1717.4" y2="1026.1" stroke="#dcdcdc" stroke-width="1.5"/>
<line x1="994.9" y1="1026.1" x2="1031.5" y2="1026.1" stroke="#cbcbcb" stroke-width="1.5"/>
<line x1="1680.2" y1="1026.1" x2="1717.4" y2="1026.1" stroke="#cbcbcb" stroke-width="1.5"/>
<line x1="994.9" y1="1067.7" x2="1717.4" y2="1067.7" stroke="#dcdcdc" stroke-width="1.5"/>
<line x1="994.9" y1="1067.7" x2="1031.5" y2="1067.7" stroke="#cbcbcb" stroke-width="1.5"/>
<line x1="1680.2" y1="1067.7" x2="1717.4" y2="1067.7" stroke="#cbcbcb" stroke-width="1.5"/>
<line x1="994.9" y1="1109.3" x2="1717.4" y2="1109.3" stroke="#dcdcdc" stroke-width="1.5"/>
<line x1="994.9" y1="1109.3" x2="1031.5" y2="1109.3" stroke="#cbcbcb" stroke-width="1.5"/>
<line x1="1680.2" y1="1109.3" x2="1717.4" y2="1109.3" stroke="#cbcbcb" stroke-width="1.5"/>
<line x1="994.9" y1="1150.9" x2="1717.4" y2="1150.9" stroke="#dcdcdc" stroke-width="1.5"/>
<line x1="994.9" y1="1150.9" x2="1031.5" y2="1150.9" stroke="#cbcbcb" stroke-width="1.5"/>
<line x1="1680.2" y1="1150.9" x2="1717.4" y2="1150.9" stroke="#cbcbcb" stroke-width="1.5"/>
<line x1="994.9" y1="1192.5" x2="1717.4" y2="1192.5" stroke="#dcdcdc" stroke-width="1.5"/>
<line x1="994.9" y1="1192.5" x2="1031.5" y2="1192.5" stroke="#cbcbcb" stroke-width="1.5"/>
<line x1="1680.2" y1="1192.5" x2="1717.4" y2="1192.5" stroke="#cbcbcb" stroke-width="1.5"/>
<line x1="994.9" y1="1234.1" x2="1717.4" y2="1234.1" stroke="#dcdcdc" stroke-width="1.5"/>
<line x1="994.9" y1="1234.1" x2="1031.5" y2="1234.1" stroke="#cbcbcb" stroke-width="1.5"/>
<line x1="1680.2" y1="1234.1" x2="1717.4" y2="1234.1" stroke="#cbcbcb" stroke-width="1.5"/>
<polyline points="995.9,1150.9 1001.1,1150.9 1004.1,1229.8 1006.3,1229.8 1010.0,1217.2 1011.5,1150.9 1021.9,1150.9 1024.1,1163.9 1027.0,1163.9 1029.3,1150.9 1033.0,1150.9 1035.2,1150.9 1038.1,1165.4 1041.9,1165.4 1043.3,1150.9 1060.4,1150.9 1061.9,1168.3 1064.8,1168.3 1068.5,1150.9 1098.9,1150.9 1100.4,1170.6 1103.3,1170.6 1105.6,1150.9 1108.5,1150.9 1110.0,1176.5 1113.0,1178.0 1114.4,1181.7 1115.9,1181.7 1117.4,1150.9 1123.3,1150.9 1124.8,1196.5 1127.8,1196.5 1130.0,1178.7 1130.7,1169.1 1133.7,1150.9 1140.4,1150.9 1142.6,1169.1 1148.5,1169.1 1150.7,1150.9 1154.4,1150.9 1158.9,1163.9 1163.3,1167.6 1165.6,1175.7 1167.8,1175.7 1170.7,1163.9 1173.7,1150.9 1181.1,1150.9 1183.3,1156.5 1193.7,1156.5 1195.9,1150.9 1209.3,1150.9 1211.5,1157.2 1215.9,1157.2 1218.9,1150.9 1228.5,1150.9 1230.0,1158.0 1231.7,1162.4 1237.6,1162.4 1239.8,1150.9 1244.3,1150.9 1246.5,1174.3 1248.7,1174.3 1250.2,1162.4 1252.4,1176.5 1256.1,1176.5 1260.6,1150.9 1262.8,1150.9 1273.1,1150.9 1275.4,1180.9 1277.6,1180.9 1280.6,1166.9 1283.5,1150.9 1288.0,1150.9 1290.2,1156.5 1293.9,1156.5 1296.1,1150.9 1308.0,1150.9 1309.4,1171.3 1311.7,1171.3 1317.6,1150.9 1319.8,1150.9 1330.9,1150.9 1333.9,1159.4 1336.1,1150.9 1346.5,1150.9 1348.7,1227.6 1350.9,1250.6 1352.7,1252.8 1355.1,1251.6 1357.6,1214.3 1359.8,1206.9 1362.0,1205.4 1363.5,1187.6 1365.7,1187.6 1368.0,1192.0 1371.7,1182.4 1373.1,1168.3 1376.1,1168.3 1379.1,1162.4 1382.0,1175.7 1384.3,1184.6 1385.7,1192.0 1388.0,1192.0 1389.4,1150.9 1393.9,1150.9 1395.4,1166.9 1399.1,1156.5 1402.8,1156.5 1405.0,1150.9 1409.4,1150.9 1410.9,1162.4 1416.9,1162.4 1419.1,1163.9 1423.5,1163.9 1425.7,1157.2 1428.0,1171.3 1430.2,1157.2 1433.1,1157.2 1434.6,1163.9 1438.3,1163.9 1441.3,1159.4 1442.8,1150.9 1455.4,1150.9 1457.6,1157.2 1465.0,1157.2 1467.2,1162.6 1470.4,1150.9 1472.8,1162.6 1478.5,1163.4 1480.9,1150.9 1483.3,1165.0 1485.7,1150.9 1488.9,1158.6 1493.7,1158.6 1495.3,1169.8 1498.5,1169.8 1500.1,1150.9 1511.4,1150.9 1513.8,1161.0 1516.2,1150.9 1545.1,1150.9 1547.5,1159.4 1550.7,1159.4 1553.1,1150.9 1566.7,1150.9 1571.6,1167.4 1574.0,1150.9 1576.4,1150.9 1578.0,1160.2 1593.2,1160.2 1596.4,1181.1 1601.3,1184.3 1606.1,1184.3 1610.1,1150.9 1612.5,1150.9 1614.1,1158.6 1618.9,1158.6 1620.5,1150.9 1622.1,1150.9 1633.4,1150.9 1635.8,1165.0 1638.2,1150.9 1642.2,1150.9 1643.8,1150.9 1653.4,1150.9 1656.6,1163.4 1660.6,1182.7 1663.0,1182.7 1664.7,1150.9 1671.9,1150.9 1675.1,1173.0 1676.7,1179.5 1679.9,1179.5 1681.5,1150.9 1683.1,1201.9 1685.5,1209.2 1687.9,1209.2 1689.5,1150.9 1697.6,1150.9 1699.2,1185.9 1701.6,1185.9 1703.2,1150.9 1716.4,1150.9" fill="none" stroke="#dd2a18" stroke-width="4.0" stroke-linejoin="miter" stroke-miterlimit="4"/>
<polyline points="995.9,1150.9 1001.9,1150.9 1004.4,1137.2 1007.0,1150.9 1022.6,1150.9 1024.1,1121.7 1027.0,1121.7 1028.2,1137.2 1030.0,1116.5 1033.0,1116.5 1034.4,1132.0 1037.4,1110.6 1038.9,1095.0 1041.9,1095.0 1044.1,1150.9 1060.4,1150.9 1061.9,1098.0 1064.8,1098.0 1068.5,1150.9 1098.9,1150.9 1100.4,1134.3 1103.3,1134.3 1105.6,1150.9 1108.5,1150.9 1111.5,1112.8 1115.9,1112.8 1118.1,1150.9 1123.3,1150.9 1125.6,1144.6 1127.8,1144.6 1130.7,1129.1 1133.0,1129.1 1135.2,1150.9 1140.4,1150.9 1141.9,1128.3 1144.8,1128.3 1146.3,1132.8 1148.5,1132.8 1150.7,1150.9 1154.4,1150.9 1155.9,1115.7 1161.1,1115.7 1165.6,1126.9 1167.8,1138.0 1170.7,1138.0 1173.7,1150.9 1176.7,1150.9 1178.1,1121.7 1183.3,1121.7 1184.8,1137.2 1187.8,1138.7 1189.3,1103.9 1193.7,1103.9 1195.9,1150.9 1209.3,1150.9 1210.7,1137.2 1213.0,1137.2 1214.4,1127.6 1216.7,1127.6 1218.9,1150.9 1227.8,1150.9 1230.0,1141.7 1230.9,1124.6 1233.1,1124.6 1234.6,1120.9 1237.6,1120.9 1239.8,1150.9 1244.3,1150.9 1246.5,1114.3 1248.7,1114.3 1250.2,1150.9 1251.7,1107.6 1255.4,1107.6 1256.9,1109.8 1260.6,1109.8 1263.5,1150.9 1273.9,1150.9 1275.4,1099.4 1277.6,1099.4 1281.3,1129.1 1284.3,1143.9 1288.7,1143.9 1290.9,1122.4 1293.1,1122.4 1294.6,1128.3 1296.9,1150.9 1308.0,1150.9 1311.7,1125.4 1313.9,1100.2 1316.9,1093.5 1319.1,1093.5 1321.3,1150.9 1330.9,1150.9 1332.4,1136.5 1334.6,1136.5 1336.1,1150.9 1346.5,1150.9 1348.7,1118.0 1350.9,1107.6 1353.1,1122.4 1355.4,1122.4 1356.1,1104.6 1359.8,1091.3 1362.8,1055.0 1365.0,1044.6 1367.2,1054.3 1370.2,1052.0 1373.1,1082.4 1376.1,1091.3 1377.6,1120.9 1379.1,1135.7 1381.3,1137.2 1385.0,1150.9 1393.9,1150.9 1395.4,1120.2 1398.3,1120.2 1400.6,1116.5 1402.8,1116.5 1405.0,1150.9 1408.7,1150.9 1410.9,1132.8 1413.1,1132.8 1415.4,1125.4 1417.6,1133.5 1421.3,1133.5 1423.5,1122.4 1425.7,1137.2 1428.7,1144.6 1433.1,1144.6 1436.1,1129.8 1438.3,1137.2 1440.6,1137.2 1442.8,1150.9 1455.4,1150.9 1456.9,1120.9 1460.6,1097.2 1465.0,1097.2 1466.4,1107.2 1469.6,1107.2 1472.0,1118.5 1474.4,1128.9 1476.1,1119.3 1479.3,1119.3 1480.9,1150.9 1482.5,1081.5 1485.7,1068.7 1488.1,1081.5 1490.5,1071.9 1492.9,1081.5 1496.1,1086.4 1499.3,1150.9 1511.4,1150.9 1513.0,1090.4 1515.4,1090.4 1517.0,1150.9 1527.4,1150.9 1529.8,1124.1 1532.2,1124.1 1533.8,1150.9 1545.1,1150.9 1548.3,1124.1 1551.5,1124.1 1553.1,1150.9 1566.7,1150.9 1570.0,1103.2 1572.4,1103.2 1574.0,1150.9 1577.2,1071.9 1581.2,1074.3 1586.8,1107.2 1587.6,1088.0 1590.0,1085.6 1592.4,1077.5 1596.4,1077.5 1598.8,1083.2 1601.3,1114.5 1604.5,1123.3 1607.7,1136.1 1610.1,1150.9 1612.5,1105.6 1616.5,1105.6 1618.1,1115.3 1618.9,1097.6 1622.1,1097.6 1623.7,1150.9 1633.4,1150.9 1635.0,1108.8 1638.2,1108.8 1640.6,1113.7 1644.6,1114.5 1646.2,1150.9 1653.4,1150.9 1655.0,1093.6 1658.2,1093.6 1661.4,1119.3 1664.7,1150.9 1671.9,1150.9 1674.3,1116.9 1676.7,1116.9 1679.1,1131.3 1682.3,1150.9 1683.9,1142.5 1687.9,1142.5 1690.3,1150.9 1697.6,1150.9 1699.2,1112.0 1701.6,1112.0 1703.2,1150.9 1716.4,1150.9" fill="none" stroke="#5b9bd5" stroke-width="4.35" stroke-linejoin="miter" stroke-miterlimit="4"/>
<line x1="1423.5" y1="984.5" x2="1423.5" y2="1274.9" stroke="#0d0d0d" stroke-width="3.7" stroke-dasharray="5.6 6.07" stroke-dashoffset="3.4"/>
<rect x="994.9" y="984.5" width="722.5" height="291.2" fill="none" stroke="#1c1c1c" stroke-width="1.45"/>
<rect x="996.6" y="1316.9" width="34.9" height="288.0" fill="#d9d9d9"/>
<rect x="1423.5" y="1316.9" width="292.2" height="288.0" fill="#d9d9d9"/>
<line x1="994.9" y1="1356.8" x2="1717.4" y2="1356.8" stroke="#dcdcdc" stroke-width="1.5"/>
<line x1="994.9" y1="1356.8" x2="1031.5" y2="1356.8" stroke="#cbcbcb" stroke-width="1.5"/>
<line x1="1423.5" y1="1356.8" x2="1717.4" y2="1356.8" stroke="#cbcbcb" stroke-width="1.5"/>
<line x1="994.9" y1="1398.5" x2="1717.4" y2="1398.5" stroke="#dcdcdc" stroke-width="1.5"/>
<line x1="994.9" y1="1398.5" x2="1031.5" y2="1398.5" stroke="#cbcbcb" stroke-width="1.5"/>
<line x1="1423.5" y1="1398.5" x2="1717.4" y2="1398.5" stroke="#cbcbcb" stroke-width="1.5"/>
<line x1="994.9" y1="1440.1" x2="1717.4" y2="1440.1" stroke="#dcdcdc" stroke-width="1.5"/>
<line x1="994.9" y1="1440.1" x2="1031.5" y2="1440.1" stroke="#cbcbcb" stroke-width="1.5"/>
<line x1="1423.5" y1="1440.1" x2="1717.4" y2="1440.1" stroke="#cbcbcb" stroke-width="1.5"/>
<line x1="994.9" y1="1481.7" x2="1717.4" y2="1481.7" stroke="#dcdcdc" stroke-width="1.5"/>
<line x1="994.9" y1="1481.7" x2="1031.5" y2="1481.7" stroke="#cbcbcb" stroke-width="1.5"/>
<line x1="1423.5" y1="1481.7" x2="1717.4" y2="1481.7" stroke="#cbcbcb" stroke-width="1.5"/>
<line x1="994.9" y1="1523.3" x2="1717.4" y2="1523.3" stroke="#dcdcdc" stroke-width="1.5"/>
<line x1="994.9" y1="1523.3" x2="1031.5" y2="1523.3" stroke="#cbcbcb" stroke-width="1.5"/>
<line x1="1423.5" y1="1523.3" x2="1717.4" y2="1523.3" stroke="#cbcbcb" stroke-width="1.5"/>
<line x1="994.9" y1="1565.0" x2="1717.4" y2="1565.0" stroke="#dcdcdc" stroke-width="1.5"/>
<line x1="994.9" y1="1565.0" x2="1031.5" y2="1565.0" stroke="#cbcbcb" stroke-width="1.5"/>
<line x1="1423.5" y1="1565.0" x2="1717.4" y2="1565.0" stroke="#cbcbcb" stroke-width="1.5"/>
<polyline points="995.9,1481.7 1001.1,1481.7 1004.1,1560.9 1006.3,1560.9 1010.0,1548.3 1011.5,1481.7 1021.9,1481.7 1024.1,1494.9 1027.0,1494.9 1029.3,1481.7 1033.0,1481.7 1035.2,1481.7 1038.1,1496.4 1041.9,1496.4 1043.3,1481.7 1060.4,1481.7 1061.9,1499.4 1064.8,1499.4 1068.5,1481.7 1098.9,1481.7 1100.4,1501.6 1103.3,1501.6 1105.6,1481.7 1108.5,1481.7 1110.0,1507.5 1113.0,1509.0 1114.4,1512.7 1115.9,1512.7 1117.4,1481.7 1123.3,1481.7 1124.8,1527.5 1127.8,1527.5 1130.0,1509.7 1130.7,1500.1 1133.7,1481.7 1140.4,1481.7 1142.6,1500.1 1148.5,1500.1 1150.7,1481.7 1154.4,1481.7 1158.9,1494.9 1163.3,1498.6 1165.6,1506.8 1167.8,1506.8 1170.7,1494.9 1173.7,1481.7 1181.1,1481.7 1183.3,1487.5 1193.7,1487.5 1195.9,1481.7 1209.3,1481.7 1211.5,1488.3 1215.9,1488.3 1218.9,1481.7 1228.5,1481.7 1230.0,1489.0 1231.7,1493.4 1237.6,1493.4 1239.8,1481.7 1244.3,1481.7 1246.5,1505.3 1248.7,1505.3 1250.2,1493.4 1252.4,1507.5 1256.1,1507.5 1260.6,1481.7 1262.8,1481.7 1273.1,1481.7 1275.4,1512.0 1277.6,1512.0 1280.6,1497.9 1283.5,1481.7 1288.0,1481.7 1290.2,1487.5 1293.9,1487.5 1296.1,1481.7 1308.0,1481.7 1309.4,1502.3 1311.7,1502.3 1317.6,1481.7 1319.8,1481.7 1330.9,1481.7 1333.9,1490.5 1336.1,1481.7 1346.5,1481.7 1348.7,1558.6 1350.9,1581.6 1352.7,1583.8 1355.1,1582.6 1357.6,1545.3 1359.8,1537.9 1362.0,1536.4 1363.5,1518.6 1365.7,1518.6 1368.0,1523.1 1371.7,1513.4 1373.1,1499.4 1376.1,1499.4 1379.1,1493.4 1382.0,1506.8 1384.3,1515.7 1385.7,1523.1 1388.0,1523.1 1389.4,1481.7 1393.9,1481.7 1395.4,1497.9 1399.1,1487.5 1402.8,1487.5 1405.0,1481.7 1409.4,1481.7 1410.9,1493.4 1416.9,1493.4 1419.1,1494.9 1423.5,1494.9 1425.7,1488.3 1428.0,1502.3 1430.2,1488.3 1433.1,1488.3 1434.6,1494.9 1438.3,1494.9 1441.3,1490.5 1442.8,1481.7 1455.4,1481.7 1457.6,1488.3 1465.0,1488.3 1466.4,1492.6 1471.2,1485.4 1472.8,1495.0 1478.5,1495.0 1480.9,1481.7 1482.5,1495.0 1484.1,1481.7 1487.3,1481.7 1488.9,1488.6 1493.7,1488.6 1495.3,1500.6 1498.5,1500.6 1499.3,1481.7 1510.6,1481.7 1513.8,1495.0 1519.4,1495.0 1521.8,1489.4 1524.2,1489.4 1525.8,1481.7 1530.6,1481.7 1533.0,1487.0 1540.3,1487.0 1541.9,1481.7 1593.2,1481.7 1595.6,1514.3 1601.3,1515.1 1606.1,1515.1 1609.3,1498.2 1612.5,1488.6 1618.1,1488.6 1620.5,1481.7 1622.9,1481.7 1625.3,1495.8 1633.4,1495.8 1635.8,1481.7 1638.2,1481.7 1640.6,1481.7 1642.2,1481.7 1653.4,1481.7 1656.6,1496.6 1660.6,1513.5 1663.0,1513.5 1664.7,1481.7 1671.9,1481.7 1675.1,1503.0 1677.5,1509.5 1679.9,1509.5 1682.3,1481.7 1684.7,1540.8 1692.7,1540.8 1696.0,1525.5 1699.2,1519.9 1700.8,1516.7 1702.4,1530.3 1704.0,1522.3 1706.4,1537.6 1708.0,1537.6 1710.4,1525.5 1713.6,1498.2 1716.4,1489.4" fill="none" stroke="#dd2a18" stroke-width="4.0" stroke-linejoin="miter" stroke-miterlimit="4"/>
<polyline points="995.9,1481.7 1001.9,1481.7 1004.4,1468.3 1007.0,1481.7 1022.6,1481.7 1024.1,1452.7 1027.0,1452.7 1028.2,1468.3 1030.0,1447.5 1033.0,1447.5 1034.4,1463.1 1037.4,1441.6 1038.9,1426.0 1041.9,1426.0 1044.1,1481.7 1060.4,1481.7 1061.9,1429.0 1064.8,1429.0 1068.5,1481.7 1098.9,1481.7 1100.4,1465.3 1103.3,1465.3 1105.6,1481.7 1108.5,1481.7 1111.5,1443.8 1115.9,1443.8 1118.1,1481.7 1123.3,1481.7 1125.6,1475.7 1127.8,1475.7 1130.7,1460.1 1133.0,1460.1 1135.2,1481.7 1140.4,1481.7 1141.9,1459.4 1144.8,1459.4 1146.3,1463.8 1148.5,1463.8 1150.7,1481.7 1154.4,1481.7 1155.9,1446.8 1161.1,1446.8 1165.6,1457.9 1167.8,1469.0 1170.7,1469.0 1173.7,1481.7 1176.7,1481.7 1178.1,1452.7 1183.3,1452.7 1184.8,1468.3 1187.8,1469.7 1189.3,1434.9 1193.7,1434.9 1195.9,1481.7 1209.3,1481.7 1210.7,1468.3 1213.0,1468.3 1214.4,1458.6 1216.7,1458.6 1218.9,1481.7 1227.8,1481.7 1230.0,1472.7 1230.9,1455.7 1233.1,1455.7 1234.6,1452.0 1237.6,1452.0 1239.8,1481.7 1244.3,1481.7 1246.5,1445.3 1248.7,1445.3 1250.2,1481.7 1251.7,1438.6 1255.4,1438.6 1256.9,1440.9 1260.6,1440.9 1263.5,1481.7 1273.9,1481.7 1275.4,1430.5 1277.6,1430.5 1281.3,1460.1 1284.3,1474.9 1288.7,1474.9 1290.9,1453.4 1293.1,1453.4 1294.6,1459.4 1296.9,1481.7 1308.0,1481.7 1311.7,1456.4 1313.9,1431.2 1316.9,1424.6 1319.1,1424.6 1321.3,1481.7 1330.9,1481.7 1332.4,1467.5 1334.6,1467.5 1336.1,1481.7 1346.5,1481.7 1348.7,1449.0 1350.9,1438.6 1353.1,1453.4 1355.4,1453.4 1356.1,1435.7 1359.8,1422.3 1362.8,1386.0 1365.0,1375.7 1367.2,1385.3 1370.2,1383.1 1373.1,1413.4 1376.1,1422.3 1377.6,1452.0 1379.1,1466.8 1381.3,1468.3 1385.0,1481.7 1393.9,1481.7 1395.4,1451.2 1398.3,1451.2 1400.6,1447.5 1402.8,1447.5 1405.0,1481.7 1408.7,1481.7 1410.9,1463.8 1413.1,1463.8 1415.4,1456.4 1417.6,1464.6 1421.3,1464.6 1423.5,1453.4 1425.7,1468.3 1428.7,1475.7 1433.1,1475.7 1436.1,1460.9 1438.3,1468.3 1440.6,1468.3 1442.8,1481.7 1455.4,1481.7 1456.9,1452.0 1460.6,1428.3 1465.0,1428.3 1466.4,1438.0 1468.8,1438.0 1470.4,1448.5 1472.8,1459.7 1475.2,1459.7 1476.1,1450.1 1479.3,1450.1 1480.9,1481.7 1482.5,1409.9 1484.9,1398.7 1487.3,1411.5 1489.7,1402.7 1492.1,1411.5 1495.3,1416.4 1498.5,1481.7 1510.6,1481.7 1512.2,1421.2 1514.6,1421.2 1517.8,1435.6 1521.0,1454.9 1523.4,1467.7 1525.8,1474.1 1529.0,1452.5 1531.4,1452.5 1533.8,1442.8 1535.4,1442.8 1537.0,1450.1 1541.1,1467.7 1542.7,1481.7 1593.2,1481.7 1595.6,1415.6 1598.0,1415.6 1600.4,1432.4 1601.3,1445.3 1603.7,1452.5 1606.9,1467.7 1610.9,1467.7 1612.5,1436.4 1615.7,1435.6 1618.1,1446.1 1618.9,1426.8 1622.1,1426.8 1625.3,1440.4 1626.9,1454.9 1629.3,1434.0 1631.7,1434.0 1633.4,1443.7 1635.0,1481.7 1636.6,1445.3 1638.2,1445.3 1639.8,1461.3 1640.6,1445.3 1643.0,1445.3 1644.6,1481.7 1653.4,1481.7 1655.0,1425.2 1657.4,1425.2 1659.8,1448.5 1661.4,1458.1 1664.7,1481.7 1671.9,1481.7 1674.3,1447.7 1675.9,1447.7 1678.3,1461.3 1681.5,1481.7 1683.9,1474.1 1686.3,1474.1 1687.9,1467.7 1694.3,1467.7 1696.0,1454.9 1696.8,1435.6 1699.2,1435.6 1700.0,1433.2 1701.6,1433.2 1704.0,1429.2 1706.4,1429.2 1709.6,1450.9 1712.8,1470.9 1715.2,1475.8 1716.4,1481.7" fill="none" stroke="#5b9bd5" stroke-width="4.35" stroke-linejoin="miter" stroke-miterlimit="4"/>
<rect x="1541.1" y="1465.8" width="55.0" height="10.8" fill="#111"/>
<text x="1568.4" y="1460.5" font-size="22.6" font-weight="bold" text-anchor="middle" fill="#111">AO</text>
<rect x="994.9" y="1315.2" width="722.5" height="291.4" fill="none" stroke="#1c1c1c" stroke-width="1.45"/>
<text x="1013.2" y="971.4" font-size="21.3" font-weight="normal" font-style="italic" text-anchor="middle" fill="#111">20 nt</text>
<text x="1355.9" y="971.4" font-size="21.3" font-weight="bold" font-style="italic" text-anchor="middle" fill="#111">341 nt</text>
<text x="1698.8" y="971.4" font-size="21.3" font-weight="normal" font-style="italic" text-anchor="middle" fill="#111">20 nt</text>
<text x="1031.5" y="1303.0" font-size="23.6" text-anchor="middle" fill="#111">6.43<tspan font-size="16.7" dx="6.5">ME</tspan></text>
<text x="1423.5" y="1303.0" font-size="23.6" text-anchor="middle" fill="#111">7.16<tspan font-size="16.7" dx="6.5">ME</tspan></text>
<text x="1680.2" y="1303.0" font-size="23.6" text-anchor="middle" fill="#111">8.54<tspan font-size="16.7" dx="6.5">ME</tspan></text>
<text x="1013.2" y="1631.2" font-size="21.3" font-weight="normal" font-style="italic" text-anchor="middle" fill="#111">20 nt</text>
<text x="1216.0" y="1631.2" font-size="21.3" font-weight="bold" font-style="italic" text-anchor="middle" fill="#111">206 nt</text>
<text x="1570.5" y="1631.2" font-size="21.3" font-weight="normal" font-style="italic" text-anchor="middle" fill="#111">155 nt</text>
<text transform="translate(966.0,1143.7) rotate(-90)" x="0" y="0" font-size="24.2" font-weight="bold" text-anchor="middle" fill="#111" textLength="187.2" lengthAdjust="spacingAndGlyphs">Normal splicing</text>
<text transform="translate(937.1,1475.8) rotate(-90)" x="0" y="0" font-size="24.2" font-weight="bold" text-anchor="middle" fill="#111" textLength="143.5" lengthAdjust="spacingAndGlyphs">AO-induced</text>
<text transform="translate(967.0,1476.2) rotate(-90)" x="0" y="0" font-size="24.2" font-weight="bold" text-anchor="middle" fill="#111" textLength="181.7" lengthAdjust="spacingAndGlyphs">cryptic splicing</text>
<text transform="translate(1730.9,1142.8) rotate(90)" x="0" y="0" font-size="21.4" text-anchor="middle" fill="#111">&lt;- <tspan font-style="italic">Enhance</tspan> | <tspan font-style="italic">Silence</tspan> -&gt;</text>
<text transform="translate(1730.9,1473.5) rotate(90)" x="0" y="0" font-size="21.4" text-anchor="middle" fill="#111">&lt;- <tspan font-style="italic">Enhance</tspan> | <tspan font-style="italic">Silence</tspan> -&gt;</text>
<text x="517.2" y="1756.2" font-size="69" font-weight="bold" font-style="normal" text-anchor="start" fill="#111">E</text>
<text x="615.2" y="1756.2" font-size="43.5" fill="#111" textLength="645.5" lengthAdjust="spacing"><tspan font-style="italic">LMNA</tspan> exon 11, H11A(+211+245)</text>
<rect x="569.4" y="1829.9" width="44.2" height="287.8" fill="#d9d9d9"/>
<rect x="1245.7" y="1829.9" width="43.1" height="287.8" fill="#d9d9d9"/>
<line x1="567.7" y1="1869.8" x2="1290.5" y2="1869.8" stroke="#dcdcdc" stroke-width="1.5"/>
<line x1="567.7" y1="1869.8" x2="613.6" y2="1869.8" stroke="#cbcbcb" stroke-width="1.5"/>
<line x1="1245.7" y1="1869.8" x2="1290.5" y2="1869.8" stroke="#cbcbcb" stroke-width="1.5"/>
<line x1="567.7" y1="1911.4" x2="1290.5" y2="1911.4" stroke="#dcdcdc" stroke-width="1.5"/>
<line x1="567.7" y1="1911.4" x2="613.6" y2="1911.4" stroke="#cbcbcb" stroke-width="1.5"/>
<line x1="1245.7" y1="1911.4" x2="1290.5" y2="1911.4" stroke="#cbcbcb" stroke-width="1.5"/>
<line x1="567.7" y1="1953.0" x2="1290.5" y2="1953.0" stroke="#dcdcdc" stroke-width="1.5"/>
<line x1="567.7" y1="1953.0" x2="613.6" y2="1953.0" stroke="#cbcbcb" stroke-width="1.5"/>
<line x1="1245.7" y1="1953.0" x2="1290.5" y2="1953.0" stroke="#cbcbcb" stroke-width="1.5"/>
<line x1="567.7" y1="1994.6" x2="1290.5" y2="1994.6" stroke="#dcdcdc" stroke-width="1.5"/>
<line x1="567.7" y1="1994.6" x2="613.6" y2="1994.6" stroke="#cbcbcb" stroke-width="1.5"/>
<line x1="1245.7" y1="1994.6" x2="1290.5" y2="1994.6" stroke="#cbcbcb" stroke-width="1.5"/>
<line x1="567.7" y1="2036.2" x2="1290.5" y2="2036.2" stroke="#dcdcdc" stroke-width="1.5"/>
<line x1="567.7" y1="2036.2" x2="613.6" y2="2036.2" stroke="#cbcbcb" stroke-width="1.5"/>
<line x1="1245.7" y1="2036.2" x2="1290.5" y2="2036.2" stroke="#cbcbcb" stroke-width="1.5"/>
<line x1="567.7" y1="2077.8" x2="1290.5" y2="2077.8" stroke="#dcdcdc" stroke-width="1.5"/>
<line x1="567.7" y1="2077.8" x2="613.6" y2="2077.8" stroke="#cbcbcb" stroke-width="1.5"/>
<line x1="1245.7" y1="2077.8" x2="1290.5" y2="2077.8" stroke="#cbcbcb" stroke-width="1.5"/>
<polyline points="568.7,1994.6 580.7,1994.6 582.2,2026.7 585.9,2026.7 590.4,2007.4 594.1,2004.4 596.3,2010.4 600.7,2010.4 603.0,2005.2 603.7,2014.8 607.4,2014.8 608.9,1994.6 623.7,1994.6 626.7,2003.7 629.6,1994.6 642.2,1994.6 646.7,1994.6 665.2,1994.6 667.4,2058.5 669.6,2058.5 671.9,1994.6 691.1,1994.6 694.1,2003.0 699.3,2003.0 701.5,1994.6 707.4,1994.6 723.7,1994.6 726.7,2005.9 730.4,2005.9 732.6,1994.6 737.8,1994.6 740.0,2001.5 743.7,2000.7 745.9,1994.6 753.3,1994.6 755.6,2033.3 758.5,2033.3 760.7,1994.6 773.3,1994.6 776.3,2004.4 778.5,1994.6 780.7,1994.6 783.0,2004.4 785.2,1994.6 788.1,2006.7 791.9,2006.7 794.1,1994.6 800.0,1994.6 800.9,1994.6 803.9,2000.7 806.9,2000.7 809.1,1994.6 815.7,1994.6 818.0,2000.7 820.9,2000.7 823.1,2003.0 825.4,2009.6 829.1,2009.6 830.6,1994.6 836.5,1994.6 839.4,2003.7 841.7,1994.6 849.8,1994.6 852.0,2011.1 855.0,2011.1 857.2,1994.6 864.6,1994.6 867.6,2011.9 871.3,2011.9 872.8,1994.6 884.6,1994.6 886.9,2005.9 889.8,2005.9 891.3,1994.6 903.1,1994.6 906.1,2026.7 908.3,2026.7 913.5,2008.9 916.5,1994.6 929.8,1994.6 932.0,2000.0 942.4,2000.0 944.6,1994.6 957.2,1994.6 959.4,2014.8 963.9,2014.8 966.9,1994.6 969.8,1994.6 971.3,2010.4 975.7,2021.5 976.5,1994.6 986.1,1994.6 988.3,2020.0 990.6,2020.0 992.0,2004.4 995.0,1994.6 996.5,1994.6 1005.4,1994.6 1007.6,2003.0 1009.8,1994.6 1017.2,1994.6 1019.4,2003.0 1021.7,1994.6 1028.3,1994.6 1030.6,2005.9 1035.0,2005.9 1035.7,2004.3 1038.2,1994.6 1048.0,1994.6 1050.4,2094.3 1052.9,2099.2 1055.4,2099.2 1057.0,1994.6 1066.8,1994.6 1070.1,2046.9 1074.2,2064.9 1076.6,2064.9 1078.3,1994.6 1092.2,1994.6 1094.6,2019.9 1097.1,2019.9 1100.3,1994.6 1103.6,1994.6 1106.9,2010.9 1109.3,2019.9 1111.8,2019.9 1113.4,1994.6 1127.3,1994.6 1130.6,2001.9 1138.8,2001.9 1141.2,1994.6 1144.5,1994.6 1147.8,2003.5 1151.1,1994.6 1160.9,1994.6 1163.3,2004.3 1165.8,2004.3 1167.4,1994.6 1188.7,1994.6 1191.1,2026.4 1193.6,2026.4 1196.9,1994.6 1200.1,2001.1 1204.2,2001.1 1206.7,1994.6 1223.8,1994.6 1225.5,2011.7 1230.4,2011.7 1236.9,1994.6 1251.7,1994.6 1254.1,2047.7 1256.6,2055.9 1259.0,2055.0 1263.1,2055.0 1265.6,2046.9 1268.0,2033.8 1277.0,2033.8 1277.8,1994.6 1286.8,1994.6 1289.5,2000.2" fill="none" stroke="#dd2a18" stroke-width="4.0" stroke-linejoin="miter" stroke-miterlimit="4"/>
<polyline points="568.7,1994.6 581.5,1994.6 585.9,1971.1 594.1,1971.1 596.3,1977.8 600.7,1977.8 603.0,1971.1 606.7,1971.1 608.9,1994.6 623.0,1994.6 625.2,1972.6 627.4,1972.6 629.6,1994.6 640.0,1994.6 642.2,1969.6 648.1,1969.6 650.4,1994.6 665.9,1994.6 667.4,1945.2 669.6,1945.2 671.9,1994.6 677.8,1994.6 680.0,1957.8 681.5,1957.8 683.7,1994.6 691.9,1994.6 693.3,1931.1 697.0,1929.6 699.3,1924.4 702.2,1924.4 703.7,1939.3 705.9,1946.7 708.9,1946.7 711.1,1994.6 724.4,1994.6 725.9,1973.3 728.9,1973.3 731.1,1980.7 732.6,1994.6 738.5,1994.6 740.0,1958.5 742.2,1952.6 746.7,1952.6 748.9,1994.6 755.6,1994.6 757.0,1947.4 758.5,1947.4 760.0,1994.6 773.3,1994.6 774.8,1934.8 777.8,1934.8 779.3,1931.1 782.2,1924.4 784.4,1925.2 785.9,1994.6 788.9,1943.7 791.1,1943.7 793.3,1994.6 800.0,1994.6 800.9,1994.6 803.1,1931.9 805.4,1921.5 807.6,1921.5 809.8,1994.6 815.7,1994.6 817.2,1911.9 820.9,1909.6 823.9,1930.4 825.4,1940.7 828.3,1940.7 830.6,1994.6 836.5,1994.6 838.0,1972.6 840.2,1972.6 842.4,1994.6 850.6,1994.6 852.0,1958.5 854.3,1958.5 856.5,1994.6 864.6,1994.6 866.1,1964.4 868.3,1958.5 870.6,1958.5 872.8,1994.6 884.6,1994.6 886.9,1965.9 889.1,1965.9 891.3,1994.6 903.9,1994.6 906.1,1962.2 909.1,1960.0 912.0,1946.7 913.5,1938.5 915.7,1938.5 917.2,1994.6 929.8,1994.6 932.0,1983.0 942.4,1983.0 944.6,1994.6 957.2,1994.6 960.9,1965.9 963.9,1965.9 966.9,1994.6 969.8,1994.6 970.6,1963.7 975.7,1963.7 978.0,1994.6 986.9,1994.6 988.3,1975.6 991.3,1975.6 994.3,1982.2 996.5,1982.2 998.7,1994.6 1005.4,1994.6 1006.9,1965.9 1009.1,1965.9 1011.3,1994.6 1016.5,1994.6 1018.0,1951.9 1020.2,1951.9 1022.4,1994.6 1029.1,1994.6 1030.6,1943.0 1032.8,1942.2 1035.0,1943.7 1035.7,1944.6 1038.2,1994.6 1048.8,1994.6 1050.4,1979.8 1054.5,1979.8 1057.0,1994.6 1066.8,1994.6 1069.3,1962.6 1075.8,1962.6 1078.3,1994.6 1092.2,1994.6 1094.6,1978.2 1097.1,1978.2 1099.5,1994.6 1102.8,1994.6 1104.4,1972.4 1106.9,1978.2 1110.2,1981.4 1112.6,1994.6 1124.1,1994.6 1125.7,1965.9 1129.8,1965.9 1132.2,1973.2 1133.9,1994.6 1136.3,1978.2 1138.8,1978.2 1141.2,1994.6 1145.3,1994.6 1146.1,1941.3 1149.4,1941.3 1151.1,1994.6 1160.9,1994.6 1162.5,1958.5 1165.0,1958.5 1167.4,1994.6 1188.7,1994.6 1191.1,1972.4 1193.6,1972.4 1196.0,1968.3 1201.8,1968.3 1205.9,1994.6 1224.7,1994.6 1226.3,1958.5 1228.8,1952.0 1232.8,1946.3 1235.3,1947.1 1237.8,1994.6 1252.5,1994.6 1254.1,1981.4 1256.6,1981.4 1258.2,1983.1 1260.7,1981.4 1263.9,1976.5 1267.2,1976.5 1269.7,1983.1 1276.2,1983.1 1278.7,1994.6 1289.5,1994.6" fill="none" stroke="#5b9bd5" stroke-width="4.35" stroke-linejoin="miter" stroke-miterlimit="4"/>
<line x1="894.9" y1="1828.2" x2="894.9" y2="2118.6" stroke="#0d0d0d" stroke-width="3.7" stroke-dasharray="5.6 6.07" stroke-dashoffset="3.4"/>
<rect x="567.7" y="1828.2" width="722.8" height="291.2" fill="none" stroke="#1c1c1c" stroke-width="1.45"/>
<rect x="569.4" y="2161.0" width="44.6" height="287.5" fill="#d9d9d9"/>
<rect x="895.0" y="2161.0" width="393.8" height="287.5" fill="#d9d9d9"/>
<line x1="567.7" y1="2200.9" x2="1290.5" y2="2200.9" stroke="#dcdcdc" stroke-width="1.5"/>
<line x1="567.7" y1="2200.9" x2="614.0" y2="2200.9" stroke="#cbcbcb" stroke-width="1.5"/>
<line x1="895.0" y1="2200.9" x2="1290.5" y2="2200.9" stroke="#cbcbcb" stroke-width="1.5"/>
<line x1="567.7" y1="2242.4" x2="1290.5" y2="2242.4" stroke="#dcdcdc" stroke-width="1.5"/>
<line x1="567.7" y1="2242.4" x2="614.0" y2="2242.4" stroke="#cbcbcb" stroke-width="1.5"/>
<line x1="895.0" y1="2242.4" x2="1290.5" y2="2242.4" stroke="#cbcbcb" stroke-width="1.5"/>
<line x1="567.7" y1="2284.0" x2="1290.5" y2="2284.0" stroke="#dcdcdc" stroke-width="1.5"/>
<line x1="567.7" y1="2284.0" x2="614.0" y2="2284.0" stroke="#cbcbcb" stroke-width="1.5"/>
<line x1="895.0" y1="2284.0" x2="1290.5" y2="2284.0" stroke="#cbcbcb" stroke-width="1.5"/>
<line x1="567.7" y1="2325.5" x2="1290.5" y2="2325.5" stroke="#dcdcdc" stroke-width="1.5"/>
<line x1="567.7" y1="2325.5" x2="614.0" y2="2325.5" stroke="#cbcbcb" stroke-width="1.5"/>
<line x1="895.0" y1="2325.5" x2="1290.5" y2="2325.5" stroke="#cbcbcb" stroke-width="1.5"/>
<line x1="567.7" y1="2367.1" x2="1290.5" y2="2367.1" stroke="#dcdcdc" stroke-width="1.5"/>
<line x1="567.7" y1="2367.1" x2="614.0" y2="2367.1" stroke="#cbcbcb" stroke-width="1.5"/>
<line x1="895.0" y1="2367.1" x2="1290.5" y2="2367.1" stroke="#cbcbcb" stroke-width="1.5"/>
<line x1="567.7" y1="2408.6" x2="1290.5" y2="2408.6" stroke="#dcdcdc" stroke-width="1.5"/>
<line x1="567.7" y1="2408.6" x2="614.0" y2="2408.6" stroke="#cbcbcb" stroke-width="1.5"/>
<line x1="895.0" y1="2408.6" x2="1290.5" y2="2408.6" stroke="#cbcbcb" stroke-width="1.5"/>
<polyline points="568.7,2325.5 580.7,2325.5 582.2,2357.6 585.9,2357.6 590.4,2338.3 594.1,2335.3 596.3,2341.3 600.7,2341.3 603.0,2336.1 603.7,2345.7 607.4,2345.7 608.9,2325.5 623.7,2325.5 626.7,2334.6 629.6,2325.5 642.2,2325.5 646.7,2325.5 665.2,2325.5 667.4,2389.4 669.6,2389.4 671.9,2325.5 691.1,2325.5 694.1,2333.9 699.3,2333.9 701.5,2325.5 707.4,2325.5 723.7,2325.5 726.7,2336.8 730.4,2336.8 732.6,2325.5 737.8,2325.5 740.0,2332.4 743.7,2331.6 745.9,2325.5 753.3,2325.5 755.6,2364.2 758.5,2364.2 760.7,2325.5 773.3,2325.5 776.3,2335.3 778.5,2325.5 780.7,2325.5 783.0,2335.3 785.2,2325.5 788.1,2337.6 791.9,2337.6 794.1,2325.5 800.0,2325.5 800.9,2325.5 803.9,2331.6 806.9,2331.6 809.1,2325.5 815.7,2325.5 818.0,2331.6 820.9,2331.6 823.1,2333.9 825.4,2340.5 829.1,2340.5 830.6,2325.5 836.5,2325.5 839.4,2334.6 841.7,2325.5 849.8,2325.5 852.0,2342.0 855.0,2342.0 857.2,2325.5 864.6,2325.5 867.6,2342.7 871.3,2342.7 872.8,2325.5 884.6,2325.5 886.9,2336.8 889.8,2336.8 891.3,2325.5 903.1,2325.5 906.1,2357.6 908.3,2357.6 913.5,2339.8 916.5,2325.5 929.8,2325.5 932.0,2330.9 942.4,2330.9 944.6,2325.5 957.2,2325.5 959.4,2345.7 963.9,2345.7 966.9,2325.5 969.8,2325.5 971.3,2341.3 975.7,2352.4 976.5,2325.5 986.1,2325.5 988.3,2350.9 990.6,2350.9 992.0,2335.3 995.0,2325.5 996.5,2325.5 1005.4,2325.5 1007.6,2333.9 1009.8,2325.5 1017.2,2325.5 1019.4,2333.9 1021.7,2325.5 1028.3,2325.5 1030.6,2336.8 1035.0,2336.8 1035.7,2336.0 1038.2,2325.5 1046.4,2325.5 1048.0,2404.7 1050.4,2404.7 1052.1,2325.5 1070.9,2325.5 1072.5,2395.7 1076.6,2395.7 1078.3,2325.5 1084.0,2325.5 1085.6,2430.0 1088.1,2430.0 1089.7,2325.5 1094.6,2325.5 1096.3,2337.6 1099.5,2337.6 1102.0,2325.5 1104.4,2325.5 1106.1,2343.3 1109.3,2343.3 1111.0,2325.5 1115.9,2325.5 1118.3,2358.0 1120.8,2358.0 1124.1,2340.9 1127.3,2325.5 1195.2,2325.5 1196.9,2331.1 1203.4,2331.9 1208.3,2331.9 1211.6,2325.5 1223.8,2325.5 1225.5,2340.9 1228.8,2340.9 1230.4,2325.5 1233.7,2325.5 1236.1,2334.3 1239.4,2325.5 1251.7,2325.5 1254.1,2376.9 1256.6,2387.5 1259.0,2386.7 1263.1,2386.7 1265.6,2380.1 1268.0,2364.6 1277.0,2364.6 1277.8,2325.5 1286.8,2325.5 1289.5,2331.1" fill="none" stroke="#dd2a18" stroke-width="4.0" stroke-linejoin="miter" stroke-miterlimit="4"/>
<polyline points="568.7,2325.5 581.5,2325.5 585.9,2302.0 594.1,2302.0 596.3,2308.7 600.7,2308.7 603.0,2302.0 606.7,2302.0 608.9,2325.5 623.0,2325.5 625.2,2303.5 627.4,2303.5 629.6,2325.5 640.0,2325.5 642.2,2300.5 648.1,2300.5 650.4,2325.5 665.9,2325.5 667.4,2276.1 669.6,2276.1 671.9,2325.5 677.8,2325.5 680.0,2288.7 681.5,2288.7 683.7,2325.5 691.9,2325.5 693.3,2262.0 697.0,2260.5 699.3,2255.3 702.2,2255.3 703.7,2270.1 705.9,2277.6 708.9,2277.6 711.1,2325.5 724.4,2325.5 725.9,2304.2 728.9,2304.2 731.1,2311.6 732.6,2325.5 738.5,2325.5 740.0,2289.4 742.2,2283.5 746.7,2283.5 748.9,2325.5 755.6,2325.5 757.0,2278.3 758.5,2278.3 760.0,2325.5 773.3,2325.5 774.8,2265.7 777.8,2265.7 779.3,2262.0 782.2,2255.3 784.4,2256.1 785.9,2325.5 788.9,2274.6 791.1,2274.6 793.3,2325.5 800.0,2325.5 800.9,2325.5 803.1,2262.7 805.4,2252.4 807.6,2252.4 809.8,2325.5 815.7,2325.5 817.2,2242.7 820.9,2240.5 823.9,2261.3 825.4,2271.6 828.3,2271.6 830.6,2325.5 836.5,2325.5 838.0,2303.5 840.2,2303.5 842.4,2325.5 850.6,2325.5 852.0,2289.4 854.3,2289.4 856.5,2325.5 864.6,2325.5 866.1,2295.3 868.3,2289.4 870.6,2289.4 872.8,2325.5 884.6,2325.5 886.9,2296.8 889.1,2296.8 891.3,2325.5 903.9,2325.5 906.1,2293.1 909.1,2290.9 912.0,2277.6 913.5,2269.4 915.7,2269.4 917.2,2325.5 929.8,2325.5 932.0,2313.9 942.4,2313.9 944.6,2325.5 957.2,2325.5 960.9,2296.8 963.9,2296.8 966.9,2325.5 969.8,2325.5 970.6,2294.6 975.7,2294.6 978.0,2325.5 986.9,2325.5 988.3,2306.4 991.3,2306.4 994.3,2313.1 996.5,2313.1 998.7,2325.5 1005.4,2325.5 1006.9,2296.8 1009.1,2296.8 1011.3,2325.5 1016.5,2325.5 1018.0,2282.7 1020.2,2282.7 1022.4,2325.5 1029.1,2325.5 1030.6,2273.9 1032.8,2273.1 1035.0,2274.6 1035.7,2274.6 1038.2,2325.5 1047.2,2325.5 1048.8,2293.4 1051.3,2293.4 1052.9,2325.5 1071.7,2325.5 1073.4,2295.1 1076.6,2295.1 1078.3,2325.5 1084.8,2325.5 1086.4,2313.9 1088.9,2325.5 1090.5,2325.5 1094.6,2325.5 1096.3,2315.5 1099.5,2315.5 1101.2,2325.5 1102.8,2321.2 1105.2,2301.6 1107.7,2309.8 1110.2,2316.3 1111.8,2325.5 1115.9,2325.5 1118.3,2282.8 1124.9,2282.8 1128.2,2304.9 1129.0,2325.5 1194.4,2325.5 1195.2,2299.2 1201.8,2299.2 1205.9,2325.5 1209.1,2301.6 1211.6,2301.6 1214.0,2325.5 1224.7,2325.5 1225.5,2291.0 1227.9,2291.0 1230.4,2325.5 1233.7,2325.5 1234.5,2277.1 1237.8,2277.1 1240.2,2325.5 1252.5,2325.5 1254.1,2312.2 1256.6,2313.1 1259.0,2312.2 1261.5,2309.8 1263.9,2306.5 1267.2,2306.5 1269.7,2313.1 1276.2,2313.1 1278.7,2325.5 1289.5,2325.5" fill="none" stroke="#5b9bd5" stroke-width="4.35" stroke-linejoin="miter" stroke-miterlimit="4"/>
<rect x="1129.0" y="2309.5" width="58.4" height="10.9" fill="#111"/>
<text x="1158.0" y="2304.4" font-size="22.6" font-weight="bold" text-anchor="middle" fill="#111">AO</text>
<rect x="567.7" y="2159.3" width="722.8" height="290.9" fill="none" stroke="#1c1c1c" stroke-width="1.45"/>
<text x="590.7" y="1815.4" font-size="21.3" font-weight="normal" font-style="italic" text-anchor="middle" fill="#111">20 nt</text>
<text x="929.7" y="1815.4" font-size="21.3" font-weight="bold" font-style="italic" text-anchor="middle" fill="#111">270 nt</text>
<text x="1268.1" y="1815.4" font-size="21.3" font-weight="normal" font-style="italic" text-anchor="middle" fill="#111">20 nt</text>
<text x="615.5" y="2147.0" font-size="23.6" text-anchor="middle" fill="#111">9.60<tspan font-size="16.7" dx="6.5">ME</tspan></text>
<text x="894.7" y="2147.0" font-size="23.6" text-anchor="middle" fill="#111">8.07<tspan font-size="16.7" dx="6.5">ME</tspan></text>
<text x="1245.7" y="2147.0" font-size="23.6" text-anchor="middle" fill="#111">2.93<tspan font-size="16.7" dx="6.5">ME</tspan></text>
<text x="590.7" y="2474.5" font-size="21.3" font-weight="normal" font-style="italic" text-anchor="middle" fill="#111">20 nt</text>
<text x="746.6" y="2474.5" font-size="21.3" font-weight="bold" font-style="italic" text-anchor="middle" fill="#111">120 nt</text>
<text x="1094.5" y="2474.5" font-size="21.3" font-weight="normal" font-style="italic" text-anchor="middle" fill="#111">170 nt</text>
<text transform="translate(544.1,1981.4) rotate(-90)" x="0" y="0" font-size="24.2" font-weight="bold" text-anchor="middle" fill="#111" textLength="187.0" lengthAdjust="spacingAndGlyphs">Normal splicing</text>
<text transform="translate(514.7,2313.8) rotate(-90)" x="0" y="0" font-size="24.2" font-weight="bold" text-anchor="middle" fill="#111" textLength="143.0" lengthAdjust="spacingAndGlyphs">AO-induced</text>
<text transform="translate(544.5,2313.5) rotate(-90)" x="0" y="0" font-size="24.2" font-weight="bold" text-anchor="middle" fill="#111" textLength="186.3" lengthAdjust="spacingAndGlyphs">Cryptic splicing</text>
<text transform="translate(1304.0,1986.5) rotate(90)" x="0" y="0" font-size="21.4" text-anchor="middle" fill="#111">&lt;- <tspan font-style="italic">Enhance</tspan> | <tspan font-style="italic">Silence</tspan> -&gt;</text>
<text transform="translate(1304.0,2317.6) rotate(90)" x="0" y="0" font-size="21.4" text-anchor="middle" fill="#111">&lt;- <tspan font-style="italic">Enhance</tspan> | <tspan font-style="italic">Silence</tspan> -&gt;</text>
</svg>
</body></html>
